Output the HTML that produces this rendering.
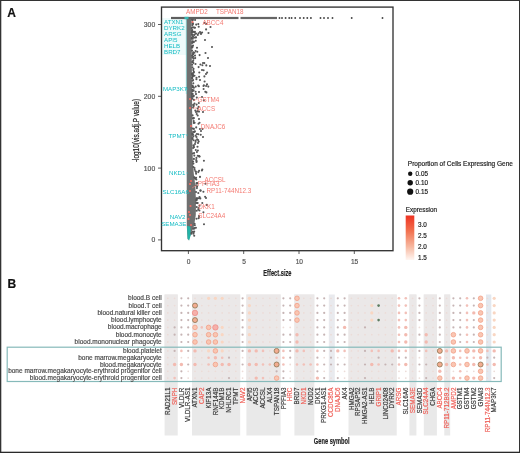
<!DOCTYPE html><html><head><meta charset="utf-8"><style>html,body{margin:0;padding:0;background:#fff;}body{width:520px;height:453px;position:relative;overflow:hidden;}</style></head><body><svg width="520" height="453" viewBox="0 0 520 453" style="position:absolute;left:0;top:0;filter:blur(0.35px);font-family:'Liberation Sans', sans-serif">
<rect x="0" y="0" width="520" height="453" fill="#fff"/>
<text x="7.3" y="17.3" font-size="12" font-weight="bold" fill="#111" stroke="#111" stroke-width="0.18">A</text>
<text x="7.5" y="287.6" font-size="12" font-weight="bold" fill="#111" stroke="#111" stroke-width="0.18">B</text>
<rect x="162" y="18" width="24" height="37" fill="#eefbfb"/>
<polygon points="186.4,18.5 191.6,18.5 191.6,20.5 191.6,22.5 191.6,24.5 191.6,26.5 191.7,28.5 191.7,30.5 191.7,32.5 191.7,34.5 191.7,36.5 191.7,38.5 191.7,40.5 191.7,42.5 191.7,44.5 191.7,46.5 191.7,48.5 191.8,50.5 191.8,52.5 191.8,54.5 191.8,56.5 191.8,58.5 191.8,60.5 191.8,62.5 191.8,64.5 191.8,66.5 191.9,68.5 191.9,70.5 191.9,72.5 191.9,74.5 191.9,76.5 191.9,78.5 191.9,80.5 192.0,82.5 192.0,84.5 192.0,86.5 192.0,88.5 192.0,90.5 192.0,92.5 192.0,94.5 192.0,96.5 192.1,98.5 192.1,100.5 192.1,102.5 192.1,104.5 192.1,106.5 192.1,108.5 192.1,110.5 192.2,112.5 192.2,114.5 192.2,116.5 192.2,118.5 192.2,120.5 192.2,122.5 192.2,124.5 192.2,126.5 192.3,128.5 192.3,130.5 192.3,132.5 192.3,134.5 192.3,136.5 192.3,138.5 192.3,140.5 192.3,142.5 192.4,144.5 192.4,146.5 192.4,148.5 192.4,150.5 192.5,152.5 192.6,154.5 192.7,156.5 192.8,158.5 192.9,160.5 193.0,162.5 193.1,164.5 193.2,166.5 193.3,168.5 193.5,170.5 193.7,172.5 193.9,174.5 194.2,176.5 194.4,178.5 194.7,180.5 194.9,182.5 195.1,184.5 195.3,186.5 195.4,188.5 195.5,190.5 195.6,192.5 195.7,194.5 195.8,196.5 195.9,198.5 196.0,200.5 196.0,202.5 195.9,204.5 195.9,206.5 195.9,208.5 195.9,210.5 195.8,212.5 195.8,214.5 195.6,216.5 195.2,218.5 194.9,220.5 194.6,222.5 194.2,224.5 193.8,226.5 193.1,228.5 192.3,230.5 191.6,232.5 190.8,234.5 189.9,236.5 189.1,238.5 188.2,240.5 188.2,240.5 187.6,238.5 186.8,226.0" fill="#707070"/>
<rect x="185.8" y="18" width="1.2" height="76" fill="#6cc8c8" opacity="0.55"/>
<polygon points="187.0,226 190.4,226.5 190.8,235 189.2,240.5 187.6,238.5" fill="#22b4a8"/>
<circle cx="192.4" cy="89.9" r="1.05" fill="#565656"/>
<circle cx="193.1" cy="161.6" r="1.05" fill="#565656"/>
<circle cx="193.3" cy="136.4" r="1.05" fill="#565656"/>
<circle cx="193.2" cy="31.7" r="1.05" fill="#565656"/>
<circle cx="192.9" cy="27.2" r="1.05" fill="#565656"/>
<circle cx="191.9" cy="34.3" r="1.05" fill="#565656"/>
<circle cx="196.0" cy="112.0" r="1.05" fill="#565656"/>
<circle cx="192.3" cy="46.1" r="1.05" fill="#565656"/>
<circle cx="199.2" cy="156.4" r="1.05" fill="#565656"/>
<circle cx="193.5" cy="145.4" r="1.05" fill="#565656"/>
<circle cx="191.6" cy="232.8" r="1.05" fill="#565656"/>
<circle cx="196.7" cy="207.0" r="1.05" fill="#565656"/>
<circle cx="192.0" cy="50.6" r="1.05" fill="#565656"/>
<circle cx="195.7" cy="86.6" r="1.05" fill="#565656"/>
<circle cx="193.7" cy="58.6" r="1.05" fill="#565656"/>
<circle cx="193.9" cy="158.9" r="1.05" fill="#565656"/>
<circle cx="192.5" cy="139.0" r="1.05" fill="#565656"/>
<circle cx="192.2" cy="32.1" r="1.05" fill="#565656"/>
<circle cx="194.5" cy="168.0" r="1.05" fill="#565656"/>
<circle cx="193.9" cy="87.8" r="1.05" fill="#565656"/>
<circle cx="193.0" cy="118.2" r="1.05" fill="#565656"/>
<circle cx="198.3" cy="193.0" r="1.05" fill="#565656"/>
<circle cx="193.8" cy="72.5" r="1.05" fill="#565656"/>
<circle cx="196.9" cy="134.0" r="1.05" fill="#565656"/>
<circle cx="195.2" cy="178.7" r="1.05" fill="#565656"/>
<circle cx="191.4" cy="233.7" r="1.05" fill="#565656"/>
<circle cx="195.3" cy="110.6" r="1.05" fill="#565656"/>
<circle cx="193.2" cy="52.3" r="1.05" fill="#565656"/>
<circle cx="194.1" cy="27.6" r="1.05" fill="#565656"/>
<circle cx="197.1" cy="186.4" r="1.05" fill="#565656"/>
<circle cx="196.7" cy="210.7" r="1.05" fill="#565656"/>
<circle cx="195.5" cy="171.3" r="1.05" fill="#565656"/>
<circle cx="193.7" cy="146.0" r="1.05" fill="#565656"/>
<circle cx="202.3" cy="203.0" r="1.05" fill="#565656"/>
<circle cx="194.6" cy="122.8" r="1.05" fill="#565656"/>
<circle cx="194.3" cy="32.3" r="1.05" fill="#565656"/>
<circle cx="203.9" cy="160.7" r="1.05" fill="#565656"/>
<circle cx="196.7" cy="199.0" r="1.05" fill="#565656"/>
<circle cx="194.5" cy="103.5" r="1.05" fill="#565656"/>
<circle cx="193.0" cy="23.9" r="1.05" fill="#565656"/>
<circle cx="192.1" cy="55.8" r="1.05" fill="#565656"/>
<circle cx="194.9" cy="31.9" r="1.05" fill="#565656"/>
<circle cx="192.4" cy="47.3" r="1.05" fill="#565656"/>
<circle cx="196.6" cy="104.6" r="1.05" fill="#565656"/>
<circle cx="193.0" cy="36.6" r="1.05" fill="#565656"/>
<circle cx="197.1" cy="139.3" r="1.05" fill="#565656"/>
<circle cx="200.3" cy="198.4" r="1.05" fill="#565656"/>
<circle cx="193.1" cy="80.0" r="1.05" fill="#565656"/>
<circle cx="196.8" cy="97.6" r="1.05" fill="#565656"/>
<circle cx="193.3" cy="228.7" r="1.05" fill="#565656"/>
<circle cx="192.4" cy="57.6" r="1.05" fill="#565656"/>
<circle cx="193.3" cy="70.1" r="1.05" fill="#565656"/>
<circle cx="193.1" cy="148.0" r="1.05" fill="#565656"/>
<circle cx="192.8" cy="19.9" r="1.05" fill="#565656"/>
<circle cx="193.9" cy="99.9" r="1.05" fill="#565656"/>
<circle cx="195.9" cy="227.7" r="1.05" fill="#565656"/>
<circle cx="194.4" cy="131.9" r="1.05" fill="#565656"/>
<circle cx="193.4" cy="167.1" r="1.05" fill="#565656"/>
<circle cx="199.0" cy="216.0" r="1.05" fill="#565656"/>
<circle cx="199.4" cy="210.5" r="1.05" fill="#565656"/>
<circle cx="193.2" cy="104.9" r="1.05" fill="#565656"/>
<circle cx="193.9" cy="41.7" r="1.05" fill="#565656"/>
<circle cx="191.8" cy="32.6" r="1.05" fill="#565656"/>
<circle cx="192.2" cy="64.7" r="1.05" fill="#565656"/>
<circle cx="192.1" cy="93.5" r="1.05" fill="#565656"/>
<circle cx="192.0" cy="19.1" r="1.05" fill="#565656"/>
<circle cx="192.7" cy="41.2" r="1.05" fill="#565656"/>
<circle cx="196.2" cy="24.6" r="1.05" fill="#565656"/>
<circle cx="192.9" cy="153.5" r="1.05" fill="#565656"/>
<circle cx="192.8" cy="74.2" r="1.05" fill="#565656"/>
<circle cx="192.3" cy="98.8" r="1.05" fill="#565656"/>
<circle cx="206.9" cy="204.9" r="1.05" fill="#565656"/>
<circle cx="193.7" cy="121.1" r="1.05" fill="#565656"/>
<circle cx="191.9" cy="37.8" r="1.05" fill="#565656"/>
<circle cx="192.7" cy="94.0" r="1.05" fill="#565656"/>
<circle cx="196.4" cy="200.5" r="1.05" fill="#565656"/>
<circle cx="198.3" cy="24.1" r="1.05" fill="#565656"/>
<circle cx="192.6" cy="134.7" r="1.05" fill="#565656"/>
<circle cx="192.4" cy="138.0" r="1.05" fill="#565656"/>
<circle cx="200.7" cy="134.7" r="1.05" fill="#565656"/>
<circle cx="198.5" cy="208.1" r="1.05" fill="#565656"/>
<circle cx="192.9" cy="76.2" r="1.05" fill="#565656"/>
<circle cx="195.0" cy="55.6" r="1.05" fill="#565656"/>
<circle cx="195.6" cy="135.6" r="1.05" fill="#565656"/>
<circle cx="192.6" cy="91.2" r="1.05" fill="#565656"/>
<circle cx="205.1" cy="196.7" r="1.05" fill="#565656"/>
<circle cx="199.5" cy="205.7" r="1.05" fill="#565656"/>
<circle cx="198.9" cy="198.2" r="1.05" fill="#565656"/>
<circle cx="193.5" cy="68.7" r="1.05" fill="#565656"/>
<circle cx="192.1" cy="96.9" r="1.05" fill="#565656"/>
<circle cx="192.4" cy="25.1" r="1.05" fill="#565656"/>
<circle cx="194.5" cy="75.8" r="1.05" fill="#565656"/>
<circle cx="194.4" cy="228.5" r="1.05" fill="#565656"/>
<circle cx="204.0" cy="224.2" r="1.05" fill="#565656"/>
<circle cx="194.2" cy="228.1" r="1.05" fill="#565656"/>
<circle cx="192.4" cy="67.3" r="1.05" fill="#565656"/>
<circle cx="192.3" cy="62.1" r="1.05" fill="#565656"/>
<circle cx="197.8" cy="155.7" r="1.05" fill="#565656"/>
<circle cx="197.4" cy="203.1" r="1.05" fill="#565656"/>
<circle cx="196.5" cy="162.0" r="1.05" fill="#565656"/>
<circle cx="194.1" cy="37.6" r="1.05" fill="#565656"/>
<circle cx="198.6" cy="218.2" r="1.05" fill="#565656"/>
<circle cx="196.4" cy="183.3" r="1.05" fill="#565656"/>
<circle cx="195.2" cy="58.1" r="1.05" fill="#565656"/>
<circle cx="195.6" cy="91.8" r="1.05" fill="#565656"/>
<circle cx="192.9" cy="231.8" r="1.05" fill="#565656"/>
<circle cx="198.6" cy="106.9" r="1.05" fill="#565656"/>
<circle cx="194.7" cy="177.7" r="1.05" fill="#565656"/>
<circle cx="192.1" cy="46.8" r="1.05" fill="#565656"/>
<circle cx="199.1" cy="217.2" r="1.05" fill="#565656"/>
<circle cx="195.6" cy="51.0" r="1.05" fill="#565656"/>
<circle cx="193.5" cy="233.7" r="1.05" fill="#565656"/>
<circle cx="193.8" cy="95.7" r="1.05" fill="#565656"/>
<circle cx="191.8" cy="47.7" r="1.05" fill="#565656"/>
<circle cx="194.2" cy="231.6" r="1.05" fill="#565656"/>
<circle cx="198.3" cy="134.3" r="1.05" fill="#565656"/>
<circle cx="196.7" cy="114.0" r="1.05" fill="#565656"/>
<circle cx="196.5" cy="199.9" r="1.05" fill="#565656"/>
<circle cx="192.7" cy="74.2" r="1.05" fill="#565656"/>
<circle cx="193.8" cy="71.7" r="1.05" fill="#565656"/>
<circle cx="193.1" cy="75.8" r="1.05" fill="#565656"/>
<circle cx="197.0" cy="47.7" r="1.05" fill="#565656"/>
<circle cx="193.4" cy="96.5" r="1.05" fill="#565656"/>
<circle cx="197.5" cy="146.8" r="1.05" fill="#565656"/>
<circle cx="197.6" cy="111.1" r="1.05" fill="#565656"/>
<circle cx="193.9" cy="128.9" r="1.05" fill="#565656"/>
<circle cx="192.3" cy="133.6" r="1.05" fill="#565656"/>
<circle cx="192.6" cy="115.4" r="1.05" fill="#565656"/>
<circle cx="195.1" cy="19.9" r="1.05" fill="#565656"/>
<circle cx="193.2" cy="56.7" r="1.05" fill="#565656"/>
<circle cx="196.1" cy="177.8" r="1.05" fill="#565656"/>
<circle cx="193.6" cy="90.4" r="1.05" fill="#565656"/>
<circle cx="195.7" cy="140.6" r="1.05" fill="#565656"/>
<circle cx="193.5" cy="42.2" r="1.05" fill="#565656"/>
<circle cx="192.6" cy="73.4" r="1.05" fill="#565656"/>
<circle cx="196.9" cy="188.1" r="1.05" fill="#565656"/>
<circle cx="195.5" cy="142.0" r="1.05" fill="#565656"/>
<circle cx="196.5" cy="218.8" r="1.05" fill="#565656"/>
<circle cx="194.1" cy="153.1" r="1.05" fill="#565656"/>
<circle cx="194.9" cy="131.2" r="1.05" fill="#565656"/>
<circle cx="193.9" cy="118.1" r="1.05" fill="#565656"/>
<circle cx="198.5" cy="123.7" r="1.05" fill="#565656"/>
<circle cx="198.3" cy="172.1" r="1.05" fill="#565656"/>
<circle cx="194.8" cy="225.3" r="1.05" fill="#565656"/>
<circle cx="198.7" cy="141.5" r="1.05" fill="#565656"/>
<circle cx="196.3" cy="203.0" r="1.05" fill="#565656"/>
<circle cx="193.0" cy="45.6" r="1.05" fill="#565656"/>
<circle cx="192.3" cy="34.9" r="1.05" fill="#565656"/>
<circle cx="194.1" cy="35.0" r="1.05" fill="#565656"/>
<circle cx="200.5" cy="190.7" r="1.05" fill="#565656"/>
<circle cx="194.5" cy="52.8" r="1.05" fill="#565656"/>
<circle cx="193.4" cy="163.6" r="1.05" fill="#565656"/>
<circle cx="203.4" cy="212.3" r="1.05" fill="#565656"/>
<circle cx="198.6" cy="67.1" r="1.05" fill="#565656"/>
<circle cx="193.6" cy="106.2" r="1.05" fill="#565656"/>
<circle cx="194.2" cy="235.8" r="1.05" fill="#565656"/>
<circle cx="193.0" cy="54.4" r="1.05" fill="#565656"/>
<circle cx="193.2" cy="131.9" r="1.05" fill="#565656"/>
<circle cx="192.7" cy="61.9" r="1.05" fill="#565656"/>
<circle cx="194.3" cy="177.2" r="1.05" fill="#565656"/>
<circle cx="193.6" cy="140.3" r="1.05" fill="#565656"/>
<circle cx="192.5" cy="23.0" r="1.05" fill="#565656"/>
<circle cx="194.3" cy="155.6" r="1.05" fill="#565656"/>
<circle cx="200.9" cy="33.1" r="1.05" fill="#565656"/>
<circle cx="203.4" cy="191.7" r="1.05" fill="#565656"/>
<circle cx="192.4" cy="41.9" r="1.05" fill="#565656"/>
<circle cx="195.0" cy="27.7" r="1.05" fill="#565656"/>
<circle cx="192.2" cy="78.2" r="1.05" fill="#565656"/>
<circle cx="197.5" cy="111.5" r="1.05" fill="#565656"/>
<circle cx="196.6" cy="198.4" r="1.05" fill="#565656"/>
<circle cx="197.3" cy="51.7" r="1.05" fill="#565656"/>
<circle cx="195.0" cy="144.0" r="1.05" fill="#565656"/>
<circle cx="191.8" cy="38.6" r="1.05" fill="#565656"/>
<circle cx="194.6" cy="169.7" r="1.05" fill="#565656"/>
<circle cx="197.8" cy="34.9" r="1.05" fill="#565656"/>
<circle cx="196.4" cy="157.9" r="1.05" fill="#565656"/>
<circle cx="196.0" cy="37.3" r="1.05" fill="#565656"/>
<circle cx="196.0" cy="33.6" r="1.05" fill="#565656"/>
<circle cx="193.1" cy="118.4" r="1.05" fill="#565656"/>
<circle cx="198.1" cy="140.1" r="1.05" fill="#565656"/>
<circle cx="192.2" cy="77.7" r="1.05" fill="#565656"/>
<circle cx="192.9" cy="134.4" r="1.05" fill="#565656"/>
<circle cx="192.1" cy="43.0" r="1.05" fill="#565656"/>
<circle cx="192.2" cy="30.0" r="1.05" fill="#565656"/>
<circle cx="192.8" cy="87.3" r="1.05" fill="#565656"/>
<circle cx="196.0" cy="185.3" r="1.05" fill="#565656"/>
<circle cx="192.7" cy="128.5" r="1.05" fill="#565656"/>
<circle cx="192.1" cy="95.0" r="1.05" fill="#565656"/>
<circle cx="191.9" cy="73.8" r="1.05" fill="#565656"/>
<circle cx="196.3" cy="179.5" r="1.05" fill="#565656"/>
<circle cx="193.2" cy="60.5" r="1.05" fill="#565656"/>
<circle cx="194.6" cy="223.7" r="1.05" fill="#565656"/>
<circle cx="197.2" cy="198.3" r="1.05" fill="#565656"/>
<circle cx="196.2" cy="127.4" r="1.05" fill="#565656"/>
<circle cx="193.7" cy="105.1" r="1.05" fill="#565656"/>
<circle cx="202.3" cy="169.6" r="1.05" fill="#565656"/>
<circle cx="196.0" cy="94.1" r="1.05" fill="#565656"/>
<circle cx="196.1" cy="173.8" r="1.05" fill="#565656"/>
<circle cx="193.1" cy="107.6" r="1.05" fill="#565656"/>
<circle cx="192.0" cy="30.9" r="1.05" fill="#565656"/>
<circle cx="194.6" cy="34.5" r="1.05" fill="#565656"/>
<circle cx="192.3" cy="75.0" r="1.05" fill="#565656"/>
<circle cx="195.7" cy="37.5" r="1.05" fill="#565656"/>
<circle cx="198.3" cy="209.6" r="1.05" fill="#565656"/>
<circle cx="192.5" cy="80.7" r="1.05" fill="#565656"/>
<circle cx="193.3" cy="83.2" r="1.05" fill="#565656"/>
<circle cx="193.1" cy="53.5" r="1.05" fill="#565656"/>
<circle cx="199.1" cy="76.7" r="1.05" fill="#565656"/>
<circle cx="193.5" cy="232.0" r="1.05" fill="#565656"/>
<circle cx="199.3" cy="72.5" r="1.05" fill="#565656"/>
<circle cx="192.9" cy="86.8" r="1.05" fill="#565656"/>
<circle cx="192.7" cy="19.2" r="1.05" fill="#565656"/>
<circle cx="193.8" cy="122.9" r="1.05" fill="#565656"/>
<circle cx="193.4" cy="63.0" r="1.05" fill="#565656"/>
<circle cx="192.3" cy="20.1" r="1.05" fill="#565656"/>
<circle cx="192.8" cy="38.7" r="1.05" fill="#565656"/>
<circle cx="191.7" cy="28.1" r="1.05" fill="#565656"/>
<circle cx="192.6" cy="85.6" r="1.05" fill="#565656"/>
<circle cx="194.0" cy="147.2" r="1.05" fill="#565656"/>
<circle cx="197.4" cy="183.4" r="1.05" fill="#565656"/>
<circle cx="204.5" cy="23.0" r="1.05" fill="#565656"/>
<circle cx="210.5" cy="27.0" r="1.05" fill="#565656"/>
<circle cx="208.5" cy="33.0" r="1.05" fill="#565656"/>
<circle cx="201.0" cy="34.0" r="1.05" fill="#565656"/>
<circle cx="205.0" cy="40.0" r="1.05" fill="#565656"/>
<circle cx="212.0" cy="47.0" r="1.05" fill="#565656"/>
<circle cx="205.5" cy="53.0" r="1.05" fill="#565656"/>
<circle cx="208.0" cy="58.0" r="1.05" fill="#565656"/>
<circle cx="203.0" cy="63.0" r="1.05" fill="#565656"/>
<circle cx="210.0" cy="66.0" r="1.05" fill="#565656"/>
<circle cx="202.0" cy="70.0" r="1.05" fill="#565656"/>
<circle cx="206.0" cy="74.0" r="1.05" fill="#565656"/>
<circle cx="200.0" cy="80.0" r="1.05" fill="#565656"/>
<circle cx="203.5" cy="86.0" r="1.05" fill="#565656"/>
<circle cx="199.0" cy="92.0" r="1.05" fill="#565656"/>
<circle cx="202.0" cy="97.0" r="1.05" fill="#565656"/>
<circle cx="198.8" cy="103.0" r="1.05" fill="#565656"/>
<circle cx="203.0" cy="112.0" r="1.05" fill="#565656"/>
<circle cx="199.0" cy="119.0" r="1.05" fill="#565656"/>
<circle cx="201.0" cy="131.0" r="1.05" fill="#565656"/>
<circle cx="196.5" cy="137.0" r="1.05" fill="#565656"/>
<circle cx="203.0" cy="137.0" r="1.05" fill="#565656"/>
<circle cx="198.0" cy="143.0" r="1.05" fill="#565656"/>
<circle cx="195.8" cy="150.0" r="1.05" fill="#565656"/>
<circle cx="196.2" cy="160.0" r="1.05" fill="#565656"/>
<circle cx="199.0" cy="156.0" r="1.05" fill="#565656"/>
<circle cx="196.0" cy="172.0" r="1.05" fill="#565656"/>
<circle cx="197.0" cy="183.0" r="1.05" fill="#565656"/>
<circle cx="196.0" cy="192.0" r="1.05" fill="#565656"/>
<circle cx="199.5" cy="197.0" r="1.05" fill="#565656"/>
<circle cx="197.5" cy="203.0" r="1.05" fill="#565656"/>
<circle cx="207.0" cy="84.4" r="1.05" fill="#565656"/>
<circle cx="199.6" cy="55.1" r="1.05" fill="#565656"/>
<circle cx="197.7" cy="108.6" r="1.05" fill="#565656"/>
<circle cx="203.9" cy="85.2" r="1.05" fill="#565656"/>
<circle cx="206.1" cy="23.9" r="1.05" fill="#565656"/>
<circle cx="203.8" cy="100.3" r="1.05" fill="#565656"/>
<circle cx="206.1" cy="86.0" r="1.05" fill="#565656"/>
<circle cx="202.1" cy="32.5" r="1.05" fill="#565656"/>
<circle cx="206.3" cy="65.4" r="1.05" fill="#565656"/>
<circle cx="206.4" cy="92.4" r="1.05" fill="#565656"/>
<circle cx="207.1" cy="72.6" r="1.05" fill="#565656"/>
<circle cx="204.6" cy="81.5" r="1.05" fill="#565656"/>
<circle cx="195.7" cy="40.7" r="1.05" fill="#565656"/>
<circle cx="200.0" cy="32.0" r="1.05" fill="#565656"/>
<circle cx="206.1" cy="29.4" r="1.05" fill="#565656"/>
<circle cx="203.6" cy="70.3" r="1.05" fill="#565656"/>
<circle cx="204.4" cy="76.4" r="1.05" fill="#565656"/>
<circle cx="195.5" cy="64.0" r="1.05" fill="#565656"/>
<circle cx="205.3" cy="91.8" r="1.05" fill="#565656"/>
<circle cx="202.4" cy="65.3" r="1.05" fill="#565656"/>
<circle cx="196.4" cy="79.3" r="1.05" fill="#565656"/>
<circle cx="198.9" cy="86.3" r="1.05" fill="#565656"/>
<circle cx="198.7" cy="26.7" r="1.05" fill="#565656"/>
<circle cx="198.2" cy="85.6" r="1.05" fill="#565656"/>
<circle cx="208.3" cy="86.6" r="1.05" fill="#565656"/>
<circle cx="200.4" cy="64.5" r="1.05" fill="#565656"/>
<circle cx="204.3" cy="63.1" r="1.05" fill="#565656"/>
<circle cx="203.6" cy="89.0" r="1.05" fill="#565656"/>
<circle cx="196.5" cy="77.8" r="1.05" fill="#565656"/>
<circle cx="198.6" cy="33.3" r="1.05" fill="#565656"/>
<circle cx="200.0" cy="176.9" r="1.05" fill="#565656"/>
<circle cx="196.6" cy="161.1" r="1.05" fill="#565656"/>
<circle cx="197.7" cy="115.5" r="1.05" fill="#565656"/>
<circle cx="201.9" cy="170.5" r="1.05" fill="#565656"/>
<circle cx="199.1" cy="170.8" r="1.05" fill="#565656"/>
<circle cx="199.6" cy="156.5" r="1.05" fill="#565656"/>
<circle cx="196.9" cy="152.0" r="1.05" fill="#565656"/>
<circle cx="200.5" cy="190.4" r="1.05" fill="#565656"/>
<circle cx="206.0" cy="198.0" r="1.05" fill="#565656"/>
<circle cx="199.0" cy="111.6" r="1.05" fill="#565656"/>
<circle cx="205.4" cy="183.8" r="1.05" fill="#565656"/>
<circle cx="197.9" cy="150.5" r="1.05" fill="#565656"/>
<circle cx="202.5" cy="128.9" r="1.05" fill="#565656"/>
<circle cx="199.9" cy="129.0" r="1.05" fill="#565656"/>
<circle cx="199.5" cy="122.8" r="1.05" fill="#565656"/>
<rect x="171" y="16.9" width="67.5" height="2.2" fill="#5e5e5e"/><rect x="240.5" y="16.9" width="36.5" height="2.2" fill="#666"/>
<rect x="184.5" y="16.8" width="4" height="2.4" fill="#3ab8b4"/>
<circle cx="279.5" cy="18" r="0.95" fill="#444"/>
<circle cx="282" cy="18" r="0.95" fill="#444"/>
<circle cx="285.6" cy="18" r="0.95" fill="#444"/>
<circle cx="289.2" cy="18" r="0.95" fill="#444"/>
<circle cx="291.6" cy="18" r="0.95" fill="#444"/>
<circle cx="295.2" cy="18" r="0.95" fill="#444"/>
<circle cx="300" cy="18" r="0.95" fill="#444"/>
<circle cx="303.7" cy="18" r="0.95" fill="#444"/>
<circle cx="307.3" cy="18" r="0.95" fill="#444"/>
<circle cx="310.9" cy="18" r="0.95" fill="#444"/>
<circle cx="320.5" cy="18" r="0.95" fill="#444"/>
<circle cx="324" cy="18" r="0.95" fill="#444"/>
<circle cx="328" cy="18" r="0.95" fill="#444"/>
<circle cx="332.5" cy="18" r="0.95" fill="#444"/>
<circle cx="351.7" cy="18" r="0.95" fill="#444"/>
<circle cx="382.5" cy="18" r="0.95" fill="#444"/>
<circle cx="192.5" cy="22" r="1.1" fill="#f06b62"/>
<circle cx="190" cy="99" r="1.1" fill="#f06b62"/>
<circle cx="190" cy="108" r="1.1" fill="#f06b62"/>
<circle cx="191" cy="126" r="1.1" fill="#f06b62"/>
<circle cx="191" cy="181" r="1.1" fill="#f06b62"/>
<circle cx="190" cy="184" r="1.1" fill="#f06b62"/>
<circle cx="190" cy="191" r="1.1" fill="#f06b62"/>
<circle cx="190.5" cy="206" r="1.1" fill="#f06b62"/>
<circle cx="190" cy="215" r="1.1" fill="#f06b62"/>
<circle cx="191" cy="225" r="1.1" fill="#f06b62"/>
<circle cx="189" cy="212" r="1.1" fill="#f06b62"/>
<circle cx="188.5" cy="219" r="1.1" fill="#f06b62"/>
<rect x="161.5" y="7.1" width="231.5" height="243.6" fill="none" stroke="#333" stroke-width="1.35"/>
<line x1="158" x2="161.5" y1="239.9" y2="239.9" stroke="#333" stroke-width="0.8"/>
<text x="155.2" y="242.3" font-size="6.8" fill="#555" stroke="#555" stroke-width="0.18" text-anchor="end">0</text>
<line x1="158" x2="161.5" y1="168.1" y2="168.1" stroke="#333" stroke-width="0.8"/>
<text x="155.2" y="170.6" font-size="6.8" fill="#555" stroke="#555" stroke-width="0.18" text-anchor="end">100</text>
<line x1="158" x2="161.5" y1="96.3" y2="96.3" stroke="#333" stroke-width="0.8"/>
<text x="155.2" y="98.8" font-size="6.8" fill="#555" stroke="#555" stroke-width="0.18" text-anchor="end">200</text>
<line x1="158" x2="161.5" y1="24.5" y2="24.5" stroke="#333" stroke-width="0.8"/>
<text x="155.2" y="27.0" font-size="6.8" fill="#555" stroke="#555" stroke-width="0.18" text-anchor="end">300</text>
<line x1="188.4" x2="188.4" y1="251" y2="254" stroke="#333" stroke-width="0.8"/>
<text x="188.7" y="263.5" font-size="6.6" fill="#555" stroke="#555" stroke-width="0.18" text-anchor="middle">0</text>
<line x1="243.7" x2="243.7" y1="251" y2="254" stroke="#333" stroke-width="0.8"/>
<text x="244.0" y="263.5" font-size="6.6" fill="#555" stroke="#555" stroke-width="0.18" text-anchor="middle">5</text>
<line x1="299.0" x2="299.0" y1="251" y2="254" stroke="#333" stroke-width="0.8"/>
<text x="299.3" y="263.5" font-size="6.6" fill="#555" stroke="#555" stroke-width="0.18" text-anchor="middle">10</text>
<line x1="354.3" x2="354.3" y1="251" y2="254" stroke="#333" stroke-width="0.8"/>
<text x="354.6" y="263.5" font-size="6.6" fill="#555" stroke="#555" stroke-width="0.18" text-anchor="middle">15</text>
<text transform="translate(277.4,275.7) scale(0.64,1)" font-size="8.9" fill="#222" stroke="#222" stroke-width="0.18" text-anchor="middle" font-weight="bold">Effect.size</text>
<text transform="translate(138.9,130.5) rotate(-90) scale(0.78,1)" font-size="8.2" fill="#222" stroke="#222" stroke-width="0.18" text-anchor="middle">-log10(vis.adj.P value)</text>
<text x="164" y="24.4" font-size="6.2" style="fill:#14bcc4">ATXN1</text>
<text x="164" y="30.4" font-size="6.2" style="fill:#14bcc4">DYRK2</text>
<text x="164" y="36.4" font-size="6.2" style="fill:#14bcc4">ARSG</text>
<text x="164" y="42" font-size="6.2" style="fill:#14bcc4">API5</text>
<text x="164" y="48" font-size="6.2" style="fill:#14bcc4">HELB</text>
<text x="164" y="54" font-size="6.2" style="fill:#14bcc4">BRD7</text>
<text x="162.9" y="91.3" font-size="6.2" style="fill:#14bcc4">MAP3K7</text>
<text x="168.6" y="137.6" font-size="6.2" style="fill:#14bcc4">TPMT</text>
<text x="169" y="174.8" font-size="6.2" style="fill:#14bcc4">NKD1</text>
<text x="162.4" y="194.2" font-size="6.2" style="fill:#14bcc4">SLC16A6</text>
<text x="169.8" y="219.4" font-size="6.2" style="fill:#14bcc4">NAV2</text>
<text x="161.2" y="225.6" font-size="6.2" style="fill:#14bcc4">SEMA3E</text>
<text x="186" y="14" font-size="6.3" style="fill:#f47a72">AMPD2</text>
<text x="216" y="14" font-size="6.3" style="fill:#f47a72">TSPAN18</text>
<text x="202.4" y="25.4" font-size="6.3" style="fill:#f47a72">ABCC4</text>
<text x="197.6" y="102.2" font-size="6.3" style="fill:#f47a72">GSTM4</text>
<text x="197.6" y="111" font-size="6.3" style="fill:#f47a72">ACCS</text>
<text x="200.8" y="128.5" font-size="6.3" style="fill:#f47a72">DNAJC6</text>
<text x="204.5" y="182.4" font-size="6.3" style="fill:#f47a72">ACCSL</text>
<text x="197.8" y="186.4" font-size="6.3" style="fill:#f47a72">PPFIA3</text>
<text x="206.5" y="192.8" font-size="6.3" style="fill:#f47a72">RP11-744N12.3</text>
<text x="198.2" y="208.9" font-size="6.3" style="fill:#f47a72">DKK1</text>
<text x="198.2" y="218.1" font-size="6.3" style="fill:#f47a72">SLC24A4</text>
<line x1="185" y1="89" x2="188" y2="89" stroke="#14bcc4" stroke-width="0.6"/>
<line x1="186" y1="135" x2="188" y2="135" stroke="#14bcc4" stroke-width="0.6"/>
<line x1="186.5" y1="173" x2="188" y2="173" stroke="#14bcc4" stroke-width="0.6"/>
<line x1="192" y1="188" x2="197" y2="185" stroke="#f47a72" stroke-width="0.6"/>
<line x1="193" y1="101" x2="197" y2="99" stroke="#f47a72" stroke-width="0.6"/>
<line x1="193" y1="108" x2="197" y2="108" stroke="#f47a72" stroke-width="0.6"/>
<text x="407.8" y="166" font-size="6.5" fill="#222" stroke="#222" stroke-width="0.18">Proportion of Cells Expressing Gene</text>
<circle cx="410.2" cy="173.7" r="2.2" fill="#111"/>
<text x="415.6" y="176.1" font-size="6.35" fill="#222" stroke="#222" stroke-width="0.18">0.05</text>
<circle cx="410.2" cy="182.7" r="2.7" fill="#111"/>
<text x="415.6" y="185.1" font-size="6.35" fill="#222" stroke="#222" stroke-width="0.18">0.10</text>
<circle cx="410.2" cy="191.7" r="3.1" fill="#111"/>
<text x="415.6" y="194.1" font-size="6.35" fill="#222" stroke="#222" stroke-width="0.18">0.15</text>
<text x="405.8" y="211.6" font-size="6.3" fill="#222" stroke="#222" stroke-width="0.18">Expression</text>
<defs><linearGradient id="eg" x1="0" y1="0" x2="0" y2="1"><stop offset="0" stop-color="#ee3322"/><stop offset="0.35" stop-color="#f2714f"/><stop offset="0.7" stop-color="#f7b8a0"/><stop offset="1" stop-color="#fff6f2"/></linearGradient></defs>
<rect x="405.7" y="215.5" width="8.6" height="44.5" fill="url(#eg)"/>
<text x="418" y="226.70000000000002" font-size="6.35" fill="#222" stroke="#222" stroke-width="0.18">3.0</text>
<text x="418" y="237.9" font-size="6.35" fill="#222" stroke="#222" stroke-width="0.18">2.5</text>
<text x="418" y="248.9" font-size="6.35" fill="#222" stroke="#222" stroke-width="0.18">2.0</text>
<text x="418" y="259.90000000000003" font-size="6.35" fill="#222" stroke="#222" stroke-width="0.18">1.5</text>
<rect x="164.6" y="294.5" width="13.1" height="141" fill="#e9e9e9"/>
<rect x="164.6" y="294.5" width="13.1" height="87" fill="#ebe8e8"/>
<rect x="192.0" y="294.5" width="48.2" height="141" fill="#e9e9e9"/>
<rect x="192.0" y="294.5" width="48.2" height="87" fill="#ebe8e8"/>
<rect x="246.4" y="294.5" width="34.2" height="141" fill="#e9e9e9"/>
<rect x="246.4" y="294.5" width="34.2" height="87" fill="#ebe8e8"/>
<rect x="294.4" y="294.5" width="19.9" height="141" fill="#e9e9e9"/>
<rect x="294.4" y="294.5" width="19.9" height="87" fill="#ebe8e8"/>
<rect x="348.5" y="294.5" width="48.2" height="141" fill="#e9e9e9"/>
<rect x="348.5" y="294.5" width="48.2" height="87" fill="#ebe8e8"/>
<rect x="409.4" y="294.5" width="7.0" height="141" fill="#e9e9e9"/>
<rect x="409.4" y="294.5" width="7.0" height="87" fill="#ebe8e8"/>
<rect x="423.8" y="294.5" width="13.1" height="141" fill="#e9e9e9"/>
<rect x="423.8" y="294.5" width="13.1" height="87" fill="#ebe8e8"/>
<rect x="444.3" y="294.5" width="5.9" height="141" fill="#e9e9e9"/>
<rect x="444.3" y="294.5" width="5.9" height="87" fill="#ebe8e8"/>
<rect x="328.8" y="294.5" width="6" height="87" fill="#e9eaee"/>
<rect x="486.0" y="294.5" width="5.3" height="87" fill="#e2e8ef"/>
<defs><filter id="bl" x="-0.2" y="-0.2" width="1.4" height="1.4"><feGaussianBlur stdDeviation="0.35"/></filter></defs><g filter="url(#bl)">
<circle cx="167.8" cy="298.3" r="0.9" fill="#ecdcd8"/>
<circle cx="167.8" cy="305.6" r="0.9" fill="#ecdcd8"/>
<circle cx="167.8" cy="312.9" r="0.9" fill="#ecdcd8"/>
<circle cx="167.8" cy="320.1" r="0.9" fill="#ecdcd8"/>
<circle cx="167.8" cy="327.4" r="0.9" fill="#ecdcd8"/>
<circle cx="167.8" cy="334.7" r="0.9" fill="#ecdcd8"/>
<circle cx="167.8" cy="342.0" r="0.9" fill="#ecdcd8"/>
<circle cx="167.8" cy="350.9" r="0.9" fill="#ecdcd8"/>
<circle cx="167.8" cy="357.7" r="0.9" fill="#ecdcd8"/>
<circle cx="167.8" cy="364.5" r="0.9" fill="#ecdcd8"/>
<circle cx="167.8" cy="371.3" r="0.9" fill="#ecdcd8"/>
<circle cx="167.8" cy="378.1" r="0.9" fill="#ecdcd8"/>
<circle cx="174.6" cy="298.3" r="0.9" fill="#ecdcd8"/>
<circle cx="174.6" cy="305.6" r="0.9" fill="#ecdcd8"/>
<circle cx="174.6" cy="312.9" r="0.9" fill="#ecdcd8"/>
<circle cx="174.6" cy="320.1" r="0.9" fill="#ecdcd8"/>
<circle cx="174.6" cy="327.4" r="1.1" fill="#c6b4b4"/>
<circle cx="174.6" cy="334.7" r="1.1" fill="#c6b4b4"/>
<circle cx="174.6" cy="342.0" r="0.9" fill="#ecdcd8"/>
<circle cx="174.6" cy="350.9" r="1.1" fill="#c6b4b4"/>
<circle cx="174.6" cy="357.7" r="0.9" fill="#ecdcd8"/>
<circle cx="174.6" cy="364.5" r="1.7" fill="#f3bab0"/>
<circle cx="174.6" cy="371.3" r="0.9" fill="#ecdcd8"/>
<circle cx="174.6" cy="378.1" r="1.3" fill="#f2c0b8"/>
<circle cx="181.4" cy="298.3" r="1.1" fill="#c6b4b4"/>
<circle cx="181.4" cy="305.6" r="1.1" fill="#c6b4b4"/>
<circle cx="181.4" cy="312.9" r="1.1" fill="#c6b4b4"/>
<circle cx="181.4" cy="320.1" r="1.1" fill="#c6b4b4"/>
<circle cx="181.4" cy="327.4" r="1.1" fill="#c6b4b4"/>
<circle cx="181.4" cy="334.7" r="1.1" fill="#c6b4b4"/>
<circle cx="181.4" cy="342.0" r="1.1" fill="#c6b4b4"/>
<circle cx="181.4" cy="350.9" r="1.3" fill="#f2c0b8"/>
<circle cx="181.4" cy="357.7" r="0.9" fill="#ecdcd8"/>
<circle cx="181.4" cy="364.5" r="1.7" fill="#f3bab0"/>
<circle cx="181.4" cy="371.3" r="1.1" fill="#c6b4b4"/>
<circle cx="181.4" cy="378.1" r="1.1" fill="#c6b4b4"/>
<circle cx="188.2" cy="298.3" r="1.1" fill="#c6b4b4"/>
<circle cx="188.2" cy="305.6" r="1.1" fill="#c6b4b4"/>
<circle cx="188.2" cy="312.9" r="1.1" fill="#c6b4b4"/>
<circle cx="188.2" cy="320.1" r="1.1" fill="#c6b4b4"/>
<circle cx="188.2" cy="327.4" r="1.1" fill="#c6b4b4"/>
<circle cx="188.2" cy="334.7" r="1.1" fill="#c6b4b4"/>
<circle cx="188.2" cy="342.0" r="1.1" fill="#c6b4b4"/>
<circle cx="188.2" cy="350.9" r="1.1" fill="#c6b4b4"/>
<circle cx="188.2" cy="357.7" r="0.9" fill="#ecdcd8"/>
<circle cx="188.2" cy="364.5" r="1.1" fill="#c6b4b4"/>
<circle cx="188.2" cy="371.3" r="0.9" fill="#ecdcd8"/>
<circle cx="188.2" cy="378.1" r="0.9" fill="#ecdcd8"/>
<circle cx="195.0" cy="298.3" r="0.9" fill="#ecdcd8"/>
<circle cx="195.0" cy="305.6" r="2.5" fill="#f3ac90" stroke="#8c7652" stroke-width="0.8"/>
<circle cx="195.0" cy="312.9" r="2.7" fill="#f6b0aa" stroke="#ee8e88" stroke-width="0.8"/>
<circle cx="195.0" cy="320.1" r="2.5" fill="#f3ac90" stroke="#8c7652" stroke-width="0.8"/>
<circle cx="195.0" cy="327.4" r="2.3" fill="#f9c6b2" stroke="#f2a088" stroke-width="0.8"/>
<circle cx="195.0" cy="334.7" r="2.3" fill="#f9c6b2" stroke="#f2a088" stroke-width="0.8"/>
<circle cx="195.0" cy="342.0" r="2.3" fill="#f9c6b2" stroke="#f2a088" stroke-width="0.8"/>
<circle cx="195.0" cy="350.9" r="1.7" fill="#f3bab0"/>
<circle cx="195.0" cy="357.7" r="0.9" fill="#ecdcd8"/>
<circle cx="195.0" cy="364.5" r="1.7" fill="#f3bab0"/>
<circle cx="195.0" cy="371.3" r="0.9" fill="#ecdcd8"/>
<circle cx="195.0" cy="378.1" r="0.9" fill="#ecdcd8"/>
<circle cx="201.8" cy="298.3" r="0.9" fill="#ecdcd8"/>
<circle cx="201.8" cy="305.6" r="0.9" fill="#ecdcd8"/>
<circle cx="201.8" cy="312.9" r="0.9" fill="#ecdcd8"/>
<circle cx="201.8" cy="320.1" r="0.9" fill="#ecdcd8"/>
<circle cx="201.8" cy="327.4" r="1.3" fill="#f2c0b8"/>
<circle cx="201.8" cy="334.7" r="0.9" fill="#ecdcd8"/>
<circle cx="201.8" cy="342.0" r="0.9" fill="#ecdcd8"/>
<circle cx="201.8" cy="350.9" r="0.9" fill="#ecdcd8"/>
<circle cx="201.8" cy="357.7" r="0.9" fill="#ecdcd8"/>
<circle cx="201.8" cy="364.5" r="0.9" fill="#ecdcd8"/>
<circle cx="201.8" cy="371.3" r="0.9" fill="#ecdcd8"/>
<circle cx="201.8" cy="378.1" r="0.9" fill="#ecdcd8"/>
<circle cx="208.6" cy="298.3" r="1.6" fill="#f9d6c2"/>
<circle cx="208.6" cy="305.6" r="0.9" fill="#ecdcd8"/>
<circle cx="208.6" cy="312.9" r="0.9" fill="#ecdcd8"/>
<circle cx="208.6" cy="320.1" r="0.9" fill="#ecdcd8"/>
<circle cx="208.6" cy="327.4" r="2.3" fill="#f9c6b2" stroke="#f2a088" stroke-width="0.8"/>
<circle cx="208.6" cy="334.7" r="2.3" fill="#f9c6b2" stroke="#f2a088" stroke-width="0.8"/>
<circle cx="208.6" cy="342.0" r="2.3" fill="#f9c6b2" stroke="#f2a088" stroke-width="0.8"/>
<circle cx="208.6" cy="350.9" r="1.6" fill="#f9d6c2"/>
<circle cx="208.6" cy="357.7" r="1.3" fill="#f2c0b8"/>
<circle cx="208.6" cy="364.5" r="1.3" fill="#f2c0b8"/>
<circle cx="208.6" cy="371.3" r="0.9" fill="#ecdcd8"/>
<circle cx="208.6" cy="378.1" r="0.9" fill="#ecdcd8"/>
<circle cx="215.4" cy="298.3" r="1.6" fill="#f9d6c2"/>
<circle cx="215.4" cy="305.6" r="0.9" fill="#ecdcd8"/>
<circle cx="215.4" cy="312.9" r="0.9" fill="#ecdcd8"/>
<circle cx="215.4" cy="320.1" r="0.9" fill="#ecdcd8"/>
<circle cx="215.4" cy="327.4" r="2.7" fill="#f6b0aa" stroke="#ee8e88" stroke-width="0.8"/>
<circle cx="215.4" cy="334.7" r="2.3" fill="#f9c6b2" stroke="#f2a088" stroke-width="0.8"/>
<circle cx="215.4" cy="342.0" r="2.3" fill="#f9c6b2" stroke="#f2a088" stroke-width="0.8"/>
<circle cx="215.4" cy="350.9" r="2.3" fill="#f9c6b2" stroke="#f2a088" stroke-width="0.8"/>
<circle cx="215.4" cy="357.7" r="1.7" fill="#f3bab0"/>
<circle cx="215.4" cy="364.5" r="2.3" fill="#f9c6b2" stroke="#f2a088" stroke-width="0.8"/>
<circle cx="215.4" cy="371.3" r="0.9" fill="#ecdcd8"/>
<circle cx="215.4" cy="378.1" r="0.9" fill="#ecdcd8"/>
<circle cx="222.2" cy="298.3" r="1.6" fill="#f9d6c2"/>
<circle cx="222.2" cy="305.6" r="0.9" fill="#ecdcd8"/>
<circle cx="222.2" cy="312.9" r="0.9" fill="#ecdcd8"/>
<circle cx="222.2" cy="320.1" r="0.9" fill="#ecdcd8"/>
<circle cx="222.2" cy="327.4" r="1.6" fill="#f9d6c2"/>
<circle cx="222.2" cy="334.7" r="1.6" fill="#f9d6c2"/>
<circle cx="222.2" cy="342.0" r="1.6" fill="#f9d6c2"/>
<circle cx="222.2" cy="350.9" r="1.6" fill="#f9d6c2"/>
<circle cx="222.2" cy="357.7" r="1.3" fill="#f2c0b8"/>
<circle cx="222.2" cy="364.5" r="1.7" fill="#f3bab0"/>
<circle cx="222.2" cy="371.3" r="0.9" fill="#ecdcd8"/>
<circle cx="222.2" cy="378.1" r="0.9" fill="#ecdcd8"/>
<circle cx="229.0" cy="298.3" r="0.9" fill="#ecdcd8"/>
<circle cx="229.0" cy="305.6" r="0.9" fill="#ecdcd8"/>
<circle cx="229.0" cy="312.9" r="0.9" fill="#ecdcd8"/>
<circle cx="229.0" cy="320.1" r="0.9" fill="#ecdcd8"/>
<circle cx="229.0" cy="327.4" r="0.9" fill="#ecdcd8"/>
<circle cx="229.0" cy="334.7" r="0.9" fill="#ecdcd8"/>
<circle cx="229.0" cy="342.0" r="0.9" fill="#ecdcd8"/>
<circle cx="229.0" cy="350.9" r="0.9" fill="#ecdcd8"/>
<circle cx="229.0" cy="357.7" r="1.1" fill="#c6b4b4"/>
<circle cx="229.0" cy="364.5" r="1.7" fill="#f3bab0"/>
<circle cx="229.0" cy="371.3" r="0.9" fill="#ecdcd8"/>
<circle cx="229.0" cy="378.1" r="1.1" fill="#c6b4b4"/>
<circle cx="235.8" cy="298.3" r="0.9" fill="#ecdcd8"/>
<circle cx="235.8" cy="305.6" r="0.9" fill="#ecdcd8"/>
<circle cx="235.8" cy="312.9" r="0.9" fill="#ecdcd8"/>
<circle cx="235.8" cy="320.1" r="0.9" fill="#ecdcd8"/>
<circle cx="235.8" cy="327.4" r="0.9" fill="#ecdcd8"/>
<circle cx="235.8" cy="334.7" r="0.9" fill="#ecdcd8"/>
<circle cx="235.8" cy="342.0" r="0.9" fill="#ecdcd8"/>
<circle cx="235.8" cy="350.9" r="0.9" fill="#ecdcd8"/>
<circle cx="235.8" cy="357.7" r="0.9" fill="#ecdcd8"/>
<circle cx="235.8" cy="364.5" r="0.9" fill="#ecdcd8"/>
<circle cx="235.8" cy="371.3" r="0.9" fill="#ecdcd8"/>
<circle cx="235.8" cy="378.1" r="0.9" fill="#ecdcd8"/>
<circle cx="242.6" cy="298.3" r="1.1" fill="#c6b4b4"/>
<circle cx="242.6" cy="305.6" r="1.1" fill="#c6b4b4"/>
<circle cx="242.6" cy="312.9" r="1.1" fill="#c6b4b4"/>
<circle cx="242.6" cy="320.1" r="1.1" fill="#c6b4b4"/>
<circle cx="242.6" cy="327.4" r="1.1" fill="#c6b4b4"/>
<circle cx="242.6" cy="334.7" r="1.1" fill="#c6b4b4"/>
<circle cx="242.6" cy="342.0" r="1.1" fill="#c6b4b4"/>
<circle cx="242.6" cy="350.9" r="1.1" fill="#c6b4b4"/>
<circle cx="242.6" cy="357.7" r="0.9" fill="#ecdcd8"/>
<circle cx="242.6" cy="364.5" r="1.1" fill="#c6b4b4"/>
<circle cx="242.6" cy="371.3" r="0.9" fill="#ecdcd8"/>
<circle cx="242.6" cy="378.1" r="0.9" fill="#ecdcd8"/>
<circle cx="249.4" cy="298.3" r="1.6" fill="#f9d6c2"/>
<circle cx="249.4" cy="305.6" r="1.6" fill="#f9d6c2"/>
<circle cx="249.4" cy="312.9" r="1.6" fill="#f9d6c2"/>
<circle cx="249.4" cy="320.1" r="1.6" fill="#f9d6c2"/>
<circle cx="249.4" cy="327.4" r="1.6" fill="#f9d6c2"/>
<circle cx="249.4" cy="334.7" r="1.6" fill="#f9d6c2"/>
<circle cx="249.4" cy="342.0" r="1.6" fill="#f9d6c2"/>
<circle cx="249.4" cy="350.9" r="1.7" fill="#f3bab0"/>
<circle cx="249.4" cy="357.7" r="0.9" fill="#ecdcd8"/>
<circle cx="249.4" cy="364.5" r="1.7" fill="#f3bab0"/>
<circle cx="249.4" cy="371.3" r="0.9" fill="#ecdcd8"/>
<circle cx="249.4" cy="378.1" r="0.9" fill="#ecdcd8"/>
<circle cx="256.2" cy="298.3" r="0.9" fill="#ecdcd8"/>
<circle cx="256.2" cy="305.6" r="0.9" fill="#ecdcd8"/>
<circle cx="256.2" cy="312.9" r="0.9" fill="#ecdcd8"/>
<circle cx="256.2" cy="320.1" r="0.9" fill="#ecdcd8"/>
<circle cx="256.2" cy="327.4" r="0.9" fill="#ecdcd8"/>
<circle cx="256.2" cy="334.7" r="0.9" fill="#ecdcd8"/>
<circle cx="256.2" cy="342.0" r="0.9" fill="#ecdcd8"/>
<circle cx="256.2" cy="350.9" r="1.7" fill="#f3bab0"/>
<circle cx="256.2" cy="357.7" r="0.9" fill="#ecdcd8"/>
<circle cx="256.2" cy="364.5" r="1.7" fill="#f3bab0"/>
<circle cx="256.2" cy="371.3" r="0.9" fill="#ecdcd8"/>
<circle cx="256.2" cy="378.1" r="1.7" fill="#f3bab0"/>
<circle cx="263.0" cy="298.3" r="0.9" fill="#ecdcd8"/>
<circle cx="263.0" cy="305.6" r="0.9" fill="#ecdcd8"/>
<circle cx="263.0" cy="312.9" r="0.9" fill="#ecdcd8"/>
<circle cx="263.0" cy="320.1" r="0.9" fill="#ecdcd8"/>
<circle cx="263.0" cy="327.4" r="0.9" fill="#ecdcd8"/>
<circle cx="263.0" cy="334.7" r="0.9" fill="#ecdcd8"/>
<circle cx="263.0" cy="342.0" r="0.9" fill="#ecdcd8"/>
<circle cx="263.0" cy="350.9" r="1.3" fill="#f2c0b8"/>
<circle cx="263.0" cy="357.7" r="0.9" fill="#ecdcd8"/>
<circle cx="263.0" cy="364.5" r="1.3" fill="#f2c0b8"/>
<circle cx="263.0" cy="371.3" r="0.9" fill="#ecdcd8"/>
<circle cx="263.0" cy="378.1" r="1.3" fill="#f2c0b8"/>
<circle cx="269.8" cy="298.3" r="0.9" fill="#ecdcd8"/>
<circle cx="269.8" cy="305.6" r="0.9" fill="#ecdcd8"/>
<circle cx="269.8" cy="312.9" r="0.9" fill="#ecdcd8"/>
<circle cx="269.8" cy="320.1" r="0.9" fill="#ecdcd8"/>
<circle cx="269.8" cy="327.4" r="0.9" fill="#ecdcd8"/>
<circle cx="269.8" cy="334.7" r="0.9" fill="#ecdcd8"/>
<circle cx="269.8" cy="342.0" r="0.9" fill="#ecdcd8"/>
<circle cx="269.8" cy="350.9" r="0.9" fill="#ecdcd8"/>
<circle cx="269.8" cy="357.7" r="0.9" fill="#ecdcd8"/>
<circle cx="269.8" cy="364.5" r="1.3" fill="#f2c0b8"/>
<circle cx="269.8" cy="371.3" r="0.9" fill="#ecdcd8"/>
<circle cx="269.8" cy="378.1" r="0.9" fill="#ecdcd8"/>
<circle cx="276.6" cy="298.3" r="0.9" fill="#ecdcd8"/>
<circle cx="276.6" cy="305.6" r="0.9" fill="#ecdcd8"/>
<circle cx="276.6" cy="312.9" r="0.9" fill="#ecdcd8"/>
<circle cx="276.6" cy="320.1" r="0.9" fill="#ecdcd8"/>
<circle cx="276.6" cy="327.4" r="0.9" fill="#ecdcd8"/>
<circle cx="276.6" cy="334.7" r="0.9" fill="#ecdcd8"/>
<circle cx="276.6" cy="342.0" r="0.9" fill="#ecdcd8"/>
<circle cx="276.6" cy="350.9" r="2.5" fill="#f3ac90" stroke="#8c7652" stroke-width="0.8"/>
<circle cx="276.6" cy="357.7" r="1.3" fill="#f2c0b8"/>
<circle cx="276.6" cy="364.5" r="2.5" fill="#f3ac90" stroke="#8c7652" stroke-width="0.8"/>
<circle cx="276.6" cy="371.3" r="1.1" fill="#c6b4b4"/>
<circle cx="276.6" cy="378.1" r="2.3" fill="#f9c6b2" stroke="#f2a088" stroke-width="0.8"/>
<circle cx="283.4" cy="298.3" r="1.1" fill="#c6b4b4"/>
<circle cx="283.4" cy="305.6" r="1.1" fill="#c6b4b4"/>
<circle cx="283.4" cy="312.9" r="1.1" fill="#c6b4b4"/>
<circle cx="283.4" cy="320.1" r="1.1" fill="#c6b4b4"/>
<circle cx="283.4" cy="327.4" r="0.9" fill="#ecdcd8"/>
<circle cx="283.4" cy="334.7" r="1.1" fill="#c6b4b4"/>
<circle cx="283.4" cy="342.0" r="1.1" fill="#c6b4b4"/>
<circle cx="283.4" cy="350.9" r="1.3" fill="#f2c0b8"/>
<circle cx="283.4" cy="357.7" r="1.3" fill="#f2c0b8"/>
<circle cx="283.4" cy="364.5" r="1.3" fill="#f2c0b8"/>
<circle cx="283.4" cy="371.3" r="1.1" fill="#c6b4b4"/>
<circle cx="283.4" cy="378.1" r="1.1" fill="#c6b4b4"/>
<circle cx="290.2" cy="298.3" r="1.1" fill="#c6b4b4"/>
<circle cx="290.2" cy="305.6" r="1.1" fill="#c6b4b4"/>
<circle cx="290.2" cy="312.9" r="1.1" fill="#c6b4b4"/>
<circle cx="290.2" cy="320.1" r="1.1" fill="#c6b4b4"/>
<circle cx="290.2" cy="327.4" r="0.9" fill="#ecdcd8"/>
<circle cx="290.2" cy="334.7" r="1.1" fill="#c6b4b4"/>
<circle cx="290.2" cy="342.0" r="1.1" fill="#c6b4b4"/>
<circle cx="290.2" cy="350.9" r="1.1" fill="#c6b4b4"/>
<circle cx="290.2" cy="357.7" r="1.1" fill="#c6b4b4"/>
<circle cx="290.2" cy="364.5" r="0.9" fill="#ecdcd8"/>
<circle cx="290.2" cy="371.3" r="0.9" fill="#ecdcd8"/>
<circle cx="290.2" cy="378.1" r="0.9" fill="#ecdcd8"/>
<circle cx="297.0" cy="298.3" r="2.3" fill="#f9c6b2" stroke="#f2a088" stroke-width="0.8"/>
<circle cx="297.0" cy="305.6" r="2.3" fill="#f9c6b2" stroke="#f2a088" stroke-width="0.8"/>
<circle cx="297.0" cy="312.9" r="2.3" fill="#f9c6b2" stroke="#f2a088" stroke-width="0.8"/>
<circle cx="297.0" cy="320.1" r="2.3" fill="#f9c6b2" stroke="#f2a088" stroke-width="0.8"/>
<circle cx="297.0" cy="327.4" r="0.9" fill="#ecdcd8"/>
<circle cx="297.0" cy="334.7" r="1.7" fill="#f3bab0"/>
<circle cx="297.0" cy="342.0" r="1.7" fill="#f3bab0"/>
<circle cx="297.0" cy="350.9" r="1.7" fill="#f3bab0"/>
<circle cx="297.0" cy="357.7" r="0.9" fill="#ecdcd8"/>
<circle cx="297.0" cy="364.5" r="1.3" fill="#f2c0b8"/>
<circle cx="297.0" cy="371.3" r="0.9" fill="#ecdcd8"/>
<circle cx="297.0" cy="378.1" r="0.9" fill="#ecdcd8"/>
<circle cx="303.8" cy="298.3" r="0.9" fill="#ecdcd8"/>
<circle cx="303.8" cy="305.6" r="0.9" fill="#ecdcd8"/>
<circle cx="303.8" cy="312.9" r="0.9" fill="#ecdcd8"/>
<circle cx="303.8" cy="320.1" r="0.9" fill="#ecdcd8"/>
<circle cx="303.8" cy="327.4" r="0.9" fill="#ecdcd8"/>
<circle cx="303.8" cy="334.7" r="0.9" fill="#ecdcd8"/>
<circle cx="303.8" cy="342.0" r="0.9" fill="#ecdcd8"/>
<circle cx="303.8" cy="350.9" r="1.3" fill="#f2c0b8"/>
<circle cx="303.8" cy="357.7" r="0.9" fill="#ecdcd8"/>
<circle cx="303.8" cy="364.5" r="1.3" fill="#f2c0b8"/>
<circle cx="303.8" cy="371.3" r="0.9" fill="#ecdcd8"/>
<circle cx="303.8" cy="378.1" r="0.9" fill="#ecdcd8"/>
<circle cx="310.6" cy="298.3" r="0.9" fill="#ecdcd8"/>
<circle cx="310.6" cy="305.6" r="0.9" fill="#ecdcd8"/>
<circle cx="310.6" cy="312.9" r="0.9" fill="#ecdcd8"/>
<circle cx="310.6" cy="320.1" r="0.9" fill="#ecdcd8"/>
<circle cx="310.6" cy="327.4" r="0.9" fill="#ecdcd8"/>
<circle cx="310.6" cy="334.7" r="0.9" fill="#ecdcd8"/>
<circle cx="310.6" cy="342.0" r="0.9" fill="#ecdcd8"/>
<circle cx="310.6" cy="350.9" r="0.9" fill="#ecdcd8"/>
<circle cx="310.6" cy="357.7" r="0.9" fill="#ecdcd8"/>
<circle cx="310.6" cy="364.5" r="1.3" fill="#f2c0b8"/>
<circle cx="310.6" cy="371.3" r="0.9" fill="#ecdcd8"/>
<circle cx="310.6" cy="378.1" r="0.9" fill="#ecdcd8"/>
<circle cx="317.4" cy="298.3" r="1.1" fill="#c6b4b4"/>
<circle cx="317.4" cy="305.6" r="1.1" fill="#c6b4b4"/>
<circle cx="317.4" cy="312.9" r="1.1" fill="#c6b4b4"/>
<circle cx="317.4" cy="320.1" r="1.1" fill="#c6b4b4"/>
<circle cx="317.4" cy="327.4" r="1.1" fill="#c6b4b4"/>
<circle cx="317.4" cy="334.7" r="1.1" fill="#c6b4b4"/>
<circle cx="317.4" cy="342.0" r="1.1" fill="#c6b4b4"/>
<circle cx="317.4" cy="350.9" r="1.3" fill="#f2c0b8"/>
<circle cx="317.4" cy="357.7" r="1.1" fill="#c6b4b4"/>
<circle cx="317.4" cy="364.5" r="1.3" fill="#f2c0b8"/>
<circle cx="317.4" cy="371.3" r="1.1" fill="#c6b4b4"/>
<circle cx="317.4" cy="378.1" r="1.7" fill="#f3bab0"/>
<circle cx="324.2" cy="298.3" r="1.1" fill="#c6b4b4"/>
<circle cx="324.2" cy="305.6" r="1.1" fill="#c6b4b4"/>
<circle cx="324.2" cy="312.9" r="1.1" fill="#c6b4b4"/>
<circle cx="324.2" cy="320.1" r="1.1" fill="#c6b4b4"/>
<circle cx="324.2" cy="327.4" r="1.1" fill="#c6b4b4"/>
<circle cx="324.2" cy="334.7" r="1.1" fill="#c6b4b4"/>
<circle cx="324.2" cy="342.0" r="1.1" fill="#c6b4b4"/>
<circle cx="324.2" cy="350.9" r="1.1" fill="#c6b4b4"/>
<circle cx="324.2" cy="357.7" r="0.9" fill="#ecdcd8"/>
<circle cx="324.2" cy="364.5" r="1.1" fill="#c6b4b4"/>
<circle cx="324.2" cy="371.3" r="0.9" fill="#ecdcd8"/>
<circle cx="324.2" cy="378.1" r="1.1" fill="#c6b4b4"/>
<circle cx="331.0" cy="298.3" r="0.9" fill="#ecdcd8"/>
<circle cx="331.0" cy="305.6" r="0.9" fill="#ecdcd8"/>
<circle cx="331.0" cy="312.9" r="0.9" fill="#ecdcd8"/>
<circle cx="331.0" cy="320.1" r="0.9" fill="#ecdcd8"/>
<circle cx="331.0" cy="327.4" r="0.9" fill="#ecdcd8"/>
<circle cx="331.0" cy="334.7" r="0.9" fill="#ecdcd8"/>
<circle cx="331.0" cy="342.0" r="0.9" fill="#ecdcd8"/>
<circle cx="331.0" cy="350.9" r="1.1" fill="#c6b4b4"/>
<circle cx="331.0" cy="357.7" r="1.1" fill="#c6b4b4"/>
<circle cx="331.0" cy="364.5" r="1.1" fill="#c6b4b4"/>
<circle cx="331.0" cy="371.3" r="0.9" fill="#ecdcd8"/>
<circle cx="331.0" cy="378.1" r="0.9" fill="#ecdcd8"/>
<circle cx="337.8" cy="298.3" r="1.1" fill="#c6b4b4"/>
<circle cx="337.8" cy="305.6" r="1.1" fill="#c6b4b4"/>
<circle cx="337.8" cy="312.9" r="1.1" fill="#c6b4b4"/>
<circle cx="337.8" cy="320.1" r="1.1" fill="#c6b4b4"/>
<circle cx="337.8" cy="327.4" r="1.1" fill="#c6b4b4"/>
<circle cx="337.8" cy="334.7" r="1.1" fill="#c6b4b4"/>
<circle cx="337.8" cy="342.0" r="1.1" fill="#c6b4b4"/>
<circle cx="337.8" cy="350.9" r="1.7" fill="#f3bab0"/>
<circle cx="337.8" cy="357.7" r="0.9" fill="#ecdcd8"/>
<circle cx="337.8" cy="364.5" r="1.1" fill="#c6b4b4"/>
<circle cx="337.8" cy="371.3" r="0.9" fill="#ecdcd8"/>
<circle cx="337.8" cy="378.1" r="1.1" fill="#c6b4b4"/>
<circle cx="344.6" cy="298.3" r="1.1" fill="#c6b4b4"/>
<circle cx="344.6" cy="305.6" r="1.1" fill="#c6b4b4"/>
<circle cx="344.6" cy="312.9" r="1.1" fill="#c6b4b4"/>
<circle cx="344.6" cy="320.1" r="1.1" fill="#c6b4b4"/>
<circle cx="344.6" cy="327.4" r="1.7" fill="#f3bab0"/>
<circle cx="344.6" cy="334.7" r="1.1" fill="#c6b4b4"/>
<circle cx="344.6" cy="342.0" r="1.1" fill="#c6b4b4"/>
<circle cx="344.6" cy="350.9" r="1.3" fill="#f2c0b8"/>
<circle cx="344.6" cy="357.7" r="0.9" fill="#ecdcd8"/>
<circle cx="344.6" cy="364.5" r="1.1" fill="#c6b4b4"/>
<circle cx="344.6" cy="371.3" r="0.9" fill="#ecdcd8"/>
<circle cx="344.6" cy="378.1" r="0.9" fill="#ecdcd8"/>
<circle cx="351.4" cy="298.3" r="0.9" fill="#ecdcd8"/>
<circle cx="351.4" cy="305.6" r="0.9" fill="#ecdcd8"/>
<circle cx="351.4" cy="312.9" r="0.9" fill="#ecdcd8"/>
<circle cx="351.4" cy="320.1" r="0.9" fill="#ecdcd8"/>
<circle cx="351.4" cy="327.4" r="0.9" fill="#ecdcd8"/>
<circle cx="351.4" cy="334.7" r="0.9" fill="#ecdcd8"/>
<circle cx="351.4" cy="342.0" r="0.9" fill="#ecdcd8"/>
<circle cx="351.4" cy="350.9" r="0.9" fill="#ecdcd8"/>
<circle cx="351.4" cy="357.7" r="0.9" fill="#ecdcd8"/>
<circle cx="351.4" cy="364.5" r="0.9" fill="#ecdcd8"/>
<circle cx="351.4" cy="371.3" r="0.9" fill="#ecdcd8"/>
<circle cx="351.4" cy="378.1" r="0.9" fill="#ecdcd8"/>
<circle cx="358.2" cy="298.3" r="0.9" fill="#ecdcd8"/>
<circle cx="358.2" cy="305.6" r="0.9" fill="#ecdcd8"/>
<circle cx="358.2" cy="312.9" r="0.9" fill="#ecdcd8"/>
<circle cx="358.2" cy="320.1" r="0.9" fill="#ecdcd8"/>
<circle cx="358.2" cy="327.4" r="0.9" fill="#ecdcd8"/>
<circle cx="358.2" cy="334.7" r="0.9" fill="#ecdcd8"/>
<circle cx="358.2" cy="342.0" r="0.9" fill="#ecdcd8"/>
<circle cx="358.2" cy="350.9" r="0.9" fill="#ecdcd8"/>
<circle cx="358.2" cy="357.7" r="0.9" fill="#ecdcd8"/>
<circle cx="358.2" cy="364.5" r="0.9" fill="#ecdcd8"/>
<circle cx="358.2" cy="371.3" r="0.9" fill="#ecdcd8"/>
<circle cx="358.2" cy="378.1" r="0.9" fill="#ecdcd8"/>
<circle cx="365.0" cy="298.3" r="0.9" fill="#ecdcd8"/>
<circle cx="365.0" cy="305.6" r="0.9" fill="#ecdcd8"/>
<circle cx="365.0" cy="312.9" r="0.9" fill="#ecdcd8"/>
<circle cx="365.0" cy="320.1" r="0.9" fill="#ecdcd8"/>
<circle cx="365.0" cy="327.4" r="1.1" fill="#c6b4b4"/>
<circle cx="365.0" cy="334.7" r="0.9" fill="#ecdcd8"/>
<circle cx="365.0" cy="342.0" r="0.9" fill="#ecdcd8"/>
<circle cx="365.0" cy="350.9" r="1.1" fill="#c6b4b4"/>
<circle cx="365.0" cy="357.7" r="0.9" fill="#ecdcd8"/>
<circle cx="365.0" cy="364.5" r="1.1" fill="#c6b4b4"/>
<circle cx="365.0" cy="371.3" r="0.9" fill="#ecdcd8"/>
<circle cx="365.0" cy="378.1" r="1.1" fill="#c6b4b4"/>
<circle cx="371.8" cy="298.3" r="0.9" fill="#ecdcd8"/>
<circle cx="371.8" cy="305.6" r="1.6" fill="#f9d6c2"/>
<circle cx="371.8" cy="312.9" r="1.6" fill="#f9d6c2"/>
<circle cx="371.8" cy="320.1" r="1.6" fill="#f9d6c2"/>
<circle cx="371.8" cy="327.4" r="0.9" fill="#ecdcd8"/>
<circle cx="371.8" cy="334.7" r="0.9" fill="#ecdcd8"/>
<circle cx="371.8" cy="342.0" r="0.9" fill="#ecdcd8"/>
<circle cx="371.8" cy="350.9" r="1.3" fill="#f2c0b8"/>
<circle cx="371.8" cy="357.7" r="0.9" fill="#ecdcd8"/>
<circle cx="371.8" cy="364.5" r="1.7" fill="#f3bab0"/>
<circle cx="371.8" cy="371.3" r="0.9" fill="#ecdcd8"/>
<circle cx="371.8" cy="378.1" r="0.9" fill="#ecdcd8"/>
<circle cx="378.6" cy="298.3" r="0.9" fill="#ecdcd8"/>
<circle cx="378.6" cy="305.6" r="1.3" fill="#5c7c60"/>
<circle cx="378.6" cy="312.9" r="0.9" fill="#ecdcd8"/>
<circle cx="378.6" cy="320.1" r="1.3" fill="#5c7c60"/>
<circle cx="378.6" cy="327.4" r="0.9" fill="#ecdcd8"/>
<circle cx="378.6" cy="334.7" r="0.9" fill="#ecdcd8"/>
<circle cx="378.6" cy="342.0" r="0.9" fill="#ecdcd8"/>
<circle cx="378.6" cy="350.9" r="1.3" fill="#f2c0b8"/>
<circle cx="378.6" cy="357.7" r="1.1" fill="#c6b4b4"/>
<circle cx="378.6" cy="364.5" r="1.3" fill="#f2c0b8"/>
<circle cx="378.6" cy="371.3" r="0.9" fill="#ecdcd8"/>
<circle cx="378.6" cy="378.1" r="0.9" fill="#ecdcd8"/>
<circle cx="385.4" cy="298.3" r="0.9" fill="#ecdcd8"/>
<circle cx="385.4" cy="305.6" r="0.9" fill="#ecdcd8"/>
<circle cx="385.4" cy="312.9" r="0.9" fill="#ecdcd8"/>
<circle cx="385.4" cy="320.1" r="0.9" fill="#ecdcd8"/>
<circle cx="385.4" cy="327.4" r="0.9" fill="#ecdcd8"/>
<circle cx="385.4" cy="334.7" r="0.9" fill="#ecdcd8"/>
<circle cx="385.4" cy="342.0" r="0.9" fill="#ecdcd8"/>
<circle cx="385.4" cy="350.9" r="0.9" fill="#ecdcd8"/>
<circle cx="385.4" cy="357.7" r="0.9" fill="#ecdcd8"/>
<circle cx="385.4" cy="364.5" r="1.1" fill="#c6b4b4"/>
<circle cx="385.4" cy="371.3" r="0.9" fill="#ecdcd8"/>
<circle cx="385.4" cy="378.1" r="0.9" fill="#ecdcd8"/>
<circle cx="392.2" cy="298.3" r="0.9" fill="#ecdcd8"/>
<circle cx="392.2" cy="305.6" r="0.9" fill="#ecdcd8"/>
<circle cx="392.2" cy="312.9" r="0.9" fill="#ecdcd8"/>
<circle cx="392.2" cy="320.1" r="0.9" fill="#ecdcd8"/>
<circle cx="392.2" cy="327.4" r="0.9" fill="#ecdcd8"/>
<circle cx="392.2" cy="334.7" r="0.9" fill="#ecdcd8"/>
<circle cx="392.2" cy="342.0" r="0.9" fill="#ecdcd8"/>
<circle cx="392.2" cy="350.9" r="1.7" fill="#f3bab0"/>
<circle cx="392.2" cy="357.7" r="0.9" fill="#ecdcd8"/>
<circle cx="392.2" cy="364.5" r="1.1" fill="#c6b4b4"/>
<circle cx="392.2" cy="371.3" r="0.9" fill="#ecdcd8"/>
<circle cx="392.2" cy="378.1" r="0.9" fill="#ecdcd8"/>
<circle cx="399.0" cy="298.3" r="1.3" fill="#f2c0b8"/>
<circle cx="399.0" cy="305.6" r="1.3" fill="#f2c0b8"/>
<circle cx="399.0" cy="312.9" r="1.3" fill="#f2c0b8"/>
<circle cx="399.0" cy="320.1" r="1.3" fill="#f2c0b8"/>
<circle cx="399.0" cy="327.4" r="1.3" fill="#f2c0b8"/>
<circle cx="399.0" cy="334.7" r="1.3" fill="#f2c0b8"/>
<circle cx="399.0" cy="342.0" r="1.3" fill="#f2c0b8"/>
<circle cx="399.0" cy="350.9" r="1.3" fill="#f2c0b8"/>
<circle cx="399.0" cy="357.7" r="1.1" fill="#c6b4b4"/>
<circle cx="399.0" cy="364.5" r="1.3" fill="#f2c0b8"/>
<circle cx="399.0" cy="371.3" r="0.9" fill="#ecdcd8"/>
<circle cx="399.0" cy="378.1" r="0.9" fill="#ecdcd8"/>
<circle cx="405.8" cy="298.3" r="1.3" fill="#f2c0b8"/>
<circle cx="405.8" cy="305.6" r="1.3" fill="#f2c0b8"/>
<circle cx="405.8" cy="312.9" r="1.3" fill="#f2c0b8"/>
<circle cx="405.8" cy="320.1" r="1.3" fill="#f2c0b8"/>
<circle cx="405.8" cy="327.4" r="1.7" fill="#f3bab0"/>
<circle cx="405.8" cy="334.7" r="1.7" fill="#f3bab0"/>
<circle cx="405.8" cy="342.0" r="1.7" fill="#f3bab0"/>
<circle cx="405.8" cy="350.9" r="1.3" fill="#f2c0b8"/>
<circle cx="405.8" cy="357.7" r="1.1" fill="#c6b4b4"/>
<circle cx="405.8" cy="364.5" r="1.7" fill="#f3bab0"/>
<circle cx="405.8" cy="371.3" r="0.9" fill="#ecdcd8"/>
<circle cx="405.8" cy="378.1" r="0.9" fill="#ecdcd8"/>
<circle cx="412.6" cy="298.3" r="0.9" fill="#ecdcd8"/>
<circle cx="412.6" cy="305.6" r="0.9" fill="#ecdcd8"/>
<circle cx="412.6" cy="312.9" r="0.9" fill="#ecdcd8"/>
<circle cx="412.6" cy="320.1" r="0.9" fill="#ecdcd8"/>
<circle cx="412.6" cy="327.4" r="0.9" fill="#ecdcd8"/>
<circle cx="412.6" cy="334.7" r="0.9" fill="#ecdcd8"/>
<circle cx="412.6" cy="342.0" r="0.9" fill="#ecdcd8"/>
<circle cx="412.6" cy="350.9" r="0.9" fill="#ecdcd8"/>
<circle cx="412.6" cy="357.7" r="0.9" fill="#ecdcd8"/>
<circle cx="412.6" cy="364.5" r="0.9" fill="#ecdcd8"/>
<circle cx="412.6" cy="371.3" r="0.9" fill="#ecdcd8"/>
<circle cx="412.6" cy="378.1" r="0.9" fill="#ecdcd8"/>
<circle cx="419.4" cy="298.3" r="1.1" fill="#c6b4b4"/>
<circle cx="419.4" cy="305.6" r="1.1" fill="#c6b4b4"/>
<circle cx="419.4" cy="312.9" r="1.1" fill="#c6b4b4"/>
<circle cx="419.4" cy="320.1" r="1.1" fill="#c6b4b4"/>
<circle cx="419.4" cy="327.4" r="0.9" fill="#ecdcd8"/>
<circle cx="419.4" cy="334.7" r="1.1" fill="#c6b4b4"/>
<circle cx="419.4" cy="342.0" r="0.9" fill="#ecdcd8"/>
<circle cx="419.4" cy="350.9" r="1.1" fill="#c6b4b4"/>
<circle cx="419.4" cy="357.7" r="0.9" fill="#ecdcd8"/>
<circle cx="419.4" cy="364.5" r="1.1" fill="#c6b4b4"/>
<circle cx="419.4" cy="371.3" r="0.9" fill="#ecdcd8"/>
<circle cx="419.4" cy="378.1" r="0.9" fill="#ecdcd8"/>
<circle cx="426.2" cy="298.3" r="0.9" fill="#ecdcd8"/>
<circle cx="426.2" cy="305.6" r="0.9" fill="#ecdcd8"/>
<circle cx="426.2" cy="312.9" r="0.9" fill="#ecdcd8"/>
<circle cx="426.2" cy="320.1" r="0.9" fill="#ecdcd8"/>
<circle cx="426.2" cy="327.4" r="0.9" fill="#ecdcd8"/>
<circle cx="426.2" cy="334.7" r="1.7" fill="#f3bab0"/>
<circle cx="426.2" cy="342.0" r="1.7" fill="#f3bab0"/>
<circle cx="426.2" cy="350.9" r="1.3" fill="#f2c0b8"/>
<circle cx="426.2" cy="357.7" r="0.9" fill="#ecdcd8"/>
<circle cx="426.2" cy="364.5" r="1.1" fill="#c6b4b4"/>
<circle cx="426.2" cy="371.3" r="0.9" fill="#ecdcd8"/>
<circle cx="426.2" cy="378.1" r="1.1" fill="#c6b4b4"/>
<circle cx="433.0" cy="298.3" r="0.9" fill="#ecdcd8"/>
<circle cx="433.0" cy="305.6" r="0.9" fill="#ecdcd8"/>
<circle cx="433.0" cy="312.9" r="0.9" fill="#ecdcd8"/>
<circle cx="433.0" cy="320.1" r="0.9" fill="#ecdcd8"/>
<circle cx="433.0" cy="327.4" r="0.9" fill="#ecdcd8"/>
<circle cx="433.0" cy="334.7" r="0.9" fill="#ecdcd8"/>
<circle cx="433.0" cy="342.0" r="0.9" fill="#ecdcd8"/>
<circle cx="433.0" cy="350.9" r="0.9" fill="#ecdcd8"/>
<circle cx="433.0" cy="357.7" r="0.9" fill="#ecdcd8"/>
<circle cx="433.0" cy="364.5" r="0.9" fill="#ecdcd8"/>
<circle cx="433.0" cy="371.3" r="0.9" fill="#ecdcd8"/>
<circle cx="433.0" cy="378.1" r="0.9" fill="#ecdcd8"/>
<circle cx="439.8" cy="298.3" r="1.1" fill="#c6b4b4"/>
<circle cx="439.8" cy="305.6" r="1.1" fill="#c6b4b4"/>
<circle cx="439.8" cy="312.9" r="1.1" fill="#c6b4b4"/>
<circle cx="439.8" cy="320.1" r="1.1" fill="#c6b4b4"/>
<circle cx="439.8" cy="327.4" r="1.1" fill="#c6b4b4"/>
<circle cx="439.8" cy="334.7" r="1.1" fill="#c6b4b4"/>
<circle cx="439.8" cy="342.0" r="1.1" fill="#c6b4b4"/>
<circle cx="439.8" cy="350.9" r="2.5" fill="#f3ac90" stroke="#8c7652" stroke-width="0.8"/>
<circle cx="439.8" cy="357.7" r="1.7" fill="#f3bab0"/>
<circle cx="439.8" cy="364.5" r="2.5" fill="#f3ac90" stroke="#8c7652" stroke-width="0.8"/>
<circle cx="439.8" cy="371.3" r="1.7" fill="#f3bab0"/>
<circle cx="439.8" cy="378.1" r="2.3" fill="#f9c6b2" stroke="#f2a088" stroke-width="0.8"/>
<circle cx="446.6" cy="298.3" r="0.9" fill="#ecdcd8"/>
<circle cx="446.6" cy="305.6" r="0.9" fill="#ecdcd8"/>
<circle cx="446.6" cy="312.9" r="0.9" fill="#ecdcd8"/>
<circle cx="446.6" cy="320.1" r="0.9" fill="#ecdcd8"/>
<circle cx="446.6" cy="327.4" r="0.9" fill="#ecdcd8"/>
<circle cx="446.6" cy="334.7" r="0.9" fill="#ecdcd8"/>
<circle cx="446.6" cy="342.0" r="0.9" fill="#ecdcd8"/>
<circle cx="446.6" cy="350.9" r="1.7" fill="#f3bab0"/>
<circle cx="446.6" cy="357.7" r="0.9" fill="#ecdcd8"/>
<circle cx="446.6" cy="364.5" r="1.7" fill="#f3bab0"/>
<circle cx="446.6" cy="371.3" r="0.9" fill="#ecdcd8"/>
<circle cx="446.6" cy="378.1" r="0.9" fill="#ecdcd8"/>
<circle cx="453.4" cy="298.3" r="1.1" fill="#c6b4b4"/>
<circle cx="453.4" cy="305.6" r="1.1" fill="#c6b4b4"/>
<circle cx="453.4" cy="312.9" r="1.1" fill="#c6b4b4"/>
<circle cx="453.4" cy="320.1" r="1.1" fill="#c6b4b4"/>
<circle cx="453.4" cy="327.4" r="1.1" fill="#c6b4b4"/>
<circle cx="453.4" cy="334.7" r="2.3" fill="#f9c6b2" stroke="#f2a088" stroke-width="0.8"/>
<circle cx="453.4" cy="342.0" r="2.3" fill="#f9c6b2" stroke="#f2a088" stroke-width="0.8"/>
<circle cx="453.4" cy="350.9" r="2.3" fill="#f9c6b2" stroke="#f2a088" stroke-width="0.8"/>
<circle cx="453.4" cy="357.7" r="1.7" fill="#f3bab0"/>
<circle cx="453.4" cy="364.5" r="2.3" fill="#f9c6b2" stroke="#f2a088" stroke-width="0.8"/>
<circle cx="453.4" cy="371.3" r="0.9" fill="#ecdcd8"/>
<circle cx="453.4" cy="378.1" r="1.7" fill="#f3bab0"/>
<circle cx="460.2" cy="298.3" r="1.1" fill="#c6b4b4"/>
<circle cx="460.2" cy="305.6" r="1.1" fill="#c6b4b4"/>
<circle cx="460.2" cy="312.9" r="1.1" fill="#c6b4b4"/>
<circle cx="460.2" cy="320.1" r="1.1" fill="#c6b4b4"/>
<circle cx="460.2" cy="327.4" r="1.1" fill="#c6b4b4"/>
<circle cx="460.2" cy="334.7" r="1.1" fill="#c6b4b4"/>
<circle cx="460.2" cy="342.0" r="1.1" fill="#c6b4b4"/>
<circle cx="460.2" cy="350.9" r="1.3" fill="#f2c0b8"/>
<circle cx="460.2" cy="357.7" r="1.3" fill="#f2c0b8"/>
<circle cx="460.2" cy="364.5" r="1.3" fill="#f2c0b8"/>
<circle cx="460.2" cy="371.3" r="1.3" fill="#f2c0b8"/>
<circle cx="460.2" cy="378.1" r="1.3" fill="#f2c0b8"/>
<circle cx="467.0" cy="298.3" r="1.3" fill="#f2c0b8"/>
<circle cx="467.0" cy="305.6" r="1.3" fill="#f2c0b8"/>
<circle cx="467.0" cy="312.9" r="1.3" fill="#f2c0b8"/>
<circle cx="467.0" cy="320.1" r="1.3" fill="#f2c0b8"/>
<circle cx="467.0" cy="327.4" r="1.3" fill="#f2c0b8"/>
<circle cx="467.0" cy="334.7" r="1.3" fill="#f2c0b8"/>
<circle cx="467.0" cy="342.0" r="1.3" fill="#f2c0b8"/>
<circle cx="467.0" cy="350.9" r="2.3" fill="#f9c6b2" stroke="#f2a088" stroke-width="0.8"/>
<circle cx="467.0" cy="357.7" r="1.3" fill="#f2c0b8"/>
<circle cx="467.0" cy="364.5" r="2.3" fill="#f9c6b2" stroke="#f2a088" stroke-width="0.8"/>
<circle cx="467.0" cy="371.3" r="0.9" fill="#ecdcd8"/>
<circle cx="467.0" cy="378.1" r="2.3" fill="#f9c6b2" stroke="#f2a088" stroke-width="0.8"/>
<circle cx="473.8" cy="298.3" r="1.1" fill="#c6b4b4"/>
<circle cx="473.8" cy="305.6" r="1.1" fill="#c6b4b4"/>
<circle cx="473.8" cy="312.9" r="1.7" fill="#f3bab0"/>
<circle cx="473.8" cy="320.1" r="1.1" fill="#c6b4b4"/>
<circle cx="473.8" cy="327.4" r="1.1" fill="#c6b4b4"/>
<circle cx="473.8" cy="334.7" r="1.1" fill="#c6b4b4"/>
<circle cx="473.8" cy="342.0" r="1.1" fill="#c6b4b4"/>
<circle cx="473.8" cy="350.9" r="1.7" fill="#f3bab0"/>
<circle cx="473.8" cy="357.7" r="1.3" fill="#f2c0b8"/>
<circle cx="473.8" cy="364.5" r="1.7" fill="#f3bab0"/>
<circle cx="473.8" cy="371.3" r="0.9" fill="#ecdcd8"/>
<circle cx="473.8" cy="378.1" r="1.7" fill="#f3bab0"/>
<circle cx="480.6" cy="298.3" r="2.3" fill="#f9c6b2" stroke="#f2a088" stroke-width="0.8"/>
<circle cx="480.6" cy="305.6" r="2.3" fill="#f9c6b2" stroke="#f2a088" stroke-width="0.8"/>
<circle cx="480.6" cy="312.9" r="2.3" fill="#f9c6b2" stroke="#f2a088" stroke-width="0.8"/>
<circle cx="480.6" cy="320.1" r="2.3" fill="#f9c6b2" stroke="#f2a088" stroke-width="0.8"/>
<circle cx="480.6" cy="327.4" r="2.3" fill="#f9c6b2" stroke="#f2a088" stroke-width="0.8"/>
<circle cx="480.6" cy="334.7" r="2.3" fill="#f9c6b2" stroke="#f2a088" stroke-width="0.8"/>
<circle cx="480.6" cy="342.0" r="2.3" fill="#f9c6b2" stroke="#f2a088" stroke-width="0.8"/>
<circle cx="480.6" cy="350.9" r="2.3" fill="#f9c6b2" stroke="#f2a088" stroke-width="0.8"/>
<circle cx="480.6" cy="357.7" r="1.7" fill="#f3bab0"/>
<circle cx="480.6" cy="364.5" r="2.5" fill="#f3ac90" stroke="#8c7652" stroke-width="0.8"/>
<circle cx="480.6" cy="371.3" r="2.3" fill="#f9c6b2" stroke="#f2a088" stroke-width="0.8"/>
<circle cx="480.6" cy="378.1" r="2.3" fill="#f9c6b2" stroke="#f2a088" stroke-width="0.8"/>
<circle cx="487.4" cy="298.3" r="0.9" fill="#ecdcd8"/>
<circle cx="487.4" cy="305.6" r="0.9" fill="#ecdcd8"/>
<circle cx="487.4" cy="312.9" r="0.9" fill="#ecdcd8"/>
<circle cx="487.4" cy="320.1" r="0.9" fill="#ecdcd8"/>
<circle cx="487.4" cy="327.4" r="0.9" fill="#ecdcd8"/>
<circle cx="487.4" cy="334.7" r="0.9" fill="#ecdcd8"/>
<circle cx="487.4" cy="342.0" r="0.9" fill="#ecdcd8"/>
<circle cx="487.4" cy="350.9" r="1.3" fill="#f2c0b8"/>
<circle cx="487.4" cy="357.7" r="1.1" fill="#c6b4b4"/>
<circle cx="487.4" cy="364.5" r="1.3" fill="#f2c0b8"/>
<circle cx="487.4" cy="371.3" r="0.9" fill="#ecdcd8"/>
<circle cx="487.4" cy="378.1" r="0.9" fill="#ecdcd8"/>
<circle cx="494.2" cy="298.3" r="1.6" fill="#f9d6c2"/>
<circle cx="494.2" cy="305.6" r="1.6" fill="#f9d6c2"/>
<circle cx="494.2" cy="312.9" r="1.6" fill="#f9d6c2"/>
<circle cx="494.2" cy="320.1" r="1.6" fill="#f9d6c2"/>
<circle cx="494.2" cy="327.4" r="1.6" fill="#f9d6c2"/>
<circle cx="494.2" cy="334.7" r="1.6" fill="#f9d6c2"/>
<circle cx="494.2" cy="342.0" r="1.6" fill="#f9d6c2"/>
<circle cx="494.2" cy="350.9" r="1.7" fill="#f3bab0"/>
<circle cx="494.2" cy="357.7" r="1.1" fill="#c6b4b4"/>
<circle cx="494.2" cy="364.5" r="1.7" fill="#f3bab0"/>
<circle cx="494.2" cy="371.3" r="0.9" fill="#ecdcd8"/>
<circle cx="494.2" cy="378.1" r="1.1" fill="#c6b4b4"/>
</g>
<rect x="7.2" y="347.2" width="294" height="34.3" fill="none"/>
<rect x="7.2" y="347.2" width="494" height="34.3" fill="none" stroke="#86baba" stroke-width="1.2"/>
<text x="161.7" y="300.3" font-size="6.5" fill="#4a4a4a" stroke="#4a4a4a" stroke-width="0.18" text-anchor="end">blood.B cell</text>
<text x="161.7" y="307.6" font-size="6.5" fill="#4a4a4a" stroke="#4a4a4a" stroke-width="0.18" text-anchor="end">blood.T cell</text>
<text x="161.7" y="314.9" font-size="6.5" fill="#4a4a4a" stroke="#4a4a4a" stroke-width="0.18" text-anchor="end">blood.natural killer cell</text>
<text x="161.7" y="322.1" font-size="6.5" fill="#4a4a4a" stroke="#4a4a4a" stroke-width="0.18" text-anchor="end">blood.lymphocyte</text>
<text x="161.7" y="329.4" font-size="6.5" fill="#4a4a4a" stroke="#4a4a4a" stroke-width="0.18" text-anchor="end">blood.macrophage</text>
<text x="161.7" y="336.7" font-size="6.5" fill="#4a4a4a" stroke="#4a4a4a" stroke-width="0.18" text-anchor="end">blood.monocyte</text>
<text x="161.7" y="344.0" font-size="6.5" fill="#4a4a4a" stroke="#4a4a4a" stroke-width="0.18" text-anchor="end">blood.mononuclear phagocyte</text>
<text x="161.7" y="352.9" font-size="6.5" fill="#4a4a4a" stroke="#4a4a4a" stroke-width="0.18" text-anchor="end">blood.platelet</text>
<text x="161.7" y="359.7" font-size="6.5" fill="#4a4a4a" stroke="#4a4a4a" stroke-width="0.18" text-anchor="end">bone marrow.megakaryocyte</text>
<text x="161.7" y="366.5" font-size="6.5" fill="#4a4a4a" stroke="#4a4a4a" stroke-width="0.18" text-anchor="end">blood.megakaryocyte</text>
<text x="161.7" y="373.3" font-size="6.5" fill="#4a4a4a" stroke="#4a4a4a" stroke-width="0.18" text-anchor="end">bone marrow.megakaryocyte-erythroid progenitor cell</text>
<text x="161.7" y="380.1" font-size="6.5" fill="#4a4a4a" stroke="#4a4a4a" stroke-width="0.18" text-anchor="end">blood.megakaryocyte-erythroid progenitor cell</text>
<text transform="translate(169.9,387.6) rotate(-90)" font-size="6.3" fill="#3a3a3a" stroke="#3a3a3a" stroke-width="0.18" text-anchor="end">RAD21L1</text>
<text transform="translate(176.7,387.6) rotate(-90)" font-size="6.3" fill="#ef625a" stroke="#ef625a" stroke-width="0.18" text-anchor="end">SNPH</text>
<text transform="translate(183.5,387.6) rotate(-90)" font-size="6.3" fill="#3a3a3a" stroke="#3a3a3a" stroke-width="0.18" text-anchor="end">VLDLR</text>
<text transform="translate(190.3,387.6) rotate(-90)" font-size="6.3" fill="#3a3a3a" stroke="#3a3a3a" stroke-width="0.18" text-anchor="end">VLDLR-AS1</text>
<text transform="translate(197.1,387.6) rotate(-90)" font-size="6.3" fill="#3a3a3a" stroke="#3a3a3a" stroke-width="0.18" text-anchor="end">ATXN1</text>
<text transform="translate(203.9,387.6) rotate(-90)" font-size="6.3" fill="#ef625a" stroke="#ef625a" stroke-width="0.18" text-anchor="end">CAP2</text>
<text transform="translate(210.7,387.6) rotate(-90)" font-size="6.3" fill="#3a3a3a" stroke="#3a3a3a" stroke-width="0.18" text-anchor="end">KIF13A</text>
<text transform="translate(217.5,387.6) rotate(-90)" font-size="6.3" fill="#3a3a3a" stroke="#3a3a3a" stroke-width="0.18" text-anchor="end">RNF144B</text>
<text transform="translate(224.3,387.6) rotate(-90)" font-size="6.3" fill="#3a3a3a" stroke="#3a3a3a" stroke-width="0.18" text-anchor="end">KDM1B</text>
<text transform="translate(231.1,387.6) rotate(-90)" font-size="6.3" fill="#3a3a3a" stroke="#3a3a3a" stroke-width="0.18" text-anchor="end">NHLRC1</text>
<text transform="translate(237.9,387.6) rotate(-90)" font-size="6.3" fill="#3a3a3a" stroke="#3a3a3a" stroke-width="0.18" text-anchor="end">TPMT</text>
<text transform="translate(244.7,387.6) rotate(-90)" font-size="6.3" fill="#ef625a" stroke="#ef625a" stroke-width="0.18" text-anchor="end">NAV2</text>
<text transform="translate(251.5,387.6) rotate(-90)" font-size="6.3" fill="#3a3a3a" stroke="#3a3a3a" stroke-width="0.18" text-anchor="end">API5</text>
<text transform="translate(258.3,387.6) rotate(-90)" font-size="6.3" fill="#3a3a3a" stroke="#3a3a3a" stroke-width="0.18" text-anchor="end">ACCS</text>
<text transform="translate(265.1,387.6) rotate(-90)" font-size="6.3" fill="#3a3a3a" stroke="#3a3a3a" stroke-width="0.18" text-anchor="end">ACCSL</text>
<text transform="translate(271.9,387.6) rotate(-90)" font-size="6.3" fill="#3a3a3a" stroke="#3a3a3a" stroke-width="0.18" text-anchor="end">ALX4</text>
<text transform="translate(278.7,387.6) rotate(-90)" font-size="6.3" fill="#3a3a3a" stroke="#3a3a3a" stroke-width="0.18" text-anchor="end">TSPAN18</text>
<text transform="translate(285.5,387.6) rotate(-90)" font-size="6.3" fill="#3a3a3a" stroke="#3a3a3a" stroke-width="0.18" text-anchor="end">PPFIA3</text>
<text transform="translate(292.3,387.6) rotate(-90)" font-size="6.3" fill="#ef625a" stroke="#ef625a" stroke-width="0.18" text-anchor="end">HRC</text>
<text transform="translate(299.1,387.6) rotate(-90)" font-size="6.3" fill="#3a3a3a" stroke="#3a3a3a" stroke-width="0.18" text-anchor="end">BRD7</text>
<text transform="translate(305.9,387.6) rotate(-90)" font-size="6.3" fill="#ef625a" stroke="#ef625a" stroke-width="0.18" text-anchor="end">NKD1</text>
<text transform="translate(312.7,387.6) rotate(-90)" font-size="6.3" fill="#3a3a3a" stroke="#3a3a3a" stroke-width="0.18" text-anchor="end">NOD2</text>
<text transform="translate(319.5,387.6) rotate(-90)" font-size="6.3" fill="#3a3a3a" stroke="#3a3a3a" stroke-width="0.18" text-anchor="end">DKK1</text>
<text transform="translate(326.3,387.6) rotate(-90)" font-size="6.3" fill="#3a3a3a" stroke="#3a3a3a" stroke-width="0.18" text-anchor="end">PRKG1-AS1</text>
<text transform="translate(333.1,387.6) rotate(-90)" font-size="6.3" fill="#ef625a" stroke="#ef625a" stroke-width="0.18" text-anchor="end">CCDC85A</text>
<text transform="translate(339.9,387.6) rotate(-90)" font-size="6.3" fill="#ef625a" stroke="#ef625a" stroke-width="0.18" text-anchor="end">DNAJC6</text>
<text transform="translate(346.7,387.6) rotate(-90)" font-size="6.3" fill="#3a3a3a" stroke="#3a3a3a" stroke-width="0.18" text-anchor="end">AK4</text>
<text transform="translate(353.5,387.6) rotate(-90)" font-size="6.3" fill="#3a3a3a" stroke="#3a3a3a" stroke-width="0.18" text-anchor="end">HMGA2</text>
<text transform="translate(360.3,387.6) rotate(-90)" font-size="6.3" fill="#3a3a3a" stroke="#3a3a3a" stroke-width="0.18" text-anchor="end">RPSAP52</text>
<text transform="translate(367.1,387.6) rotate(-90)" font-size="6.3" fill="#3a3a3a" stroke="#3a3a3a" stroke-width="0.18" text-anchor="end">HMGA2-AS1</text>
<text transform="translate(373.9,387.6) rotate(-90)" font-size="6.3" fill="#3a3a3a" stroke="#3a3a3a" stroke-width="0.18" text-anchor="end">HELB</text>
<text transform="translate(380.7,387.6) rotate(-90)" font-size="6.3" fill="#ef625a" stroke="#ef625a" stroke-width="0.18" text-anchor="end">GRIP1</text>
<text transform="translate(387.5,387.6) rotate(-90)" font-size="6.3" fill="#3a3a3a" stroke="#3a3a3a" stroke-width="0.18" text-anchor="end">LINC02408</text>
<text transform="translate(394.3,387.6) rotate(-90)" font-size="6.3" fill="#3a3a3a" stroke="#3a3a3a" stroke-width="0.18" text-anchor="end">DYRK2</text>
<text transform="translate(401.1,387.6) rotate(-90)" font-size="6.3" fill="#ef625a" stroke="#ef625a" stroke-width="0.18" text-anchor="end">ARSG</text>
<text transform="translate(407.9,387.6) rotate(-90)" font-size="6.3" fill="#3a3a3a" stroke="#3a3a3a" stroke-width="0.18" text-anchor="end">SLC16A6</text>
<text transform="translate(414.7,387.6) rotate(-90)" font-size="6.3" fill="#ef625a" stroke="#ef625a" stroke-width="0.18" text-anchor="end">SEMA3E</text>
<text transform="translate(421.5,387.6) rotate(-90)" font-size="6.3" fill="#3a3a3a" stroke="#3a3a3a" stroke-width="0.18" text-anchor="end">SEMA3D</text>
<text transform="translate(428.3,387.6) rotate(-90)" font-size="6.3" fill="#ef625a" stroke="#ef625a" stroke-width="0.18" text-anchor="end">SLC24A4</text>
<text transform="translate(435.1,387.6) rotate(-90)" font-size="6.3" fill="#3a3a3a" stroke="#3a3a3a" stroke-width="0.18" text-anchor="end">CHGA</text>
<text transform="translate(441.9,387.6) rotate(-90)" font-size="6.3" fill="#ef625a" stroke="#ef625a" stroke-width="0.18" text-anchor="end">ABCC4</text>
<text transform="translate(448.7,387.6) rotate(-90)" font-size="6.3" fill="#ef625a" stroke="#ef625a" stroke-width="0.18" text-anchor="end">RP11-712B9.2</text>
<text transform="translate(455.5,387.6) rotate(-90)" font-size="6.3" fill="#ef625a" stroke="#ef625a" stroke-width="0.18" text-anchor="end">AMPD2</text>
<text transform="translate(462.3,387.6) rotate(-90)" font-size="6.3" fill="#3a3a3a" stroke="#3a3a3a" stroke-width="0.18" text-anchor="end">GSTM1</text>
<text transform="translate(469.1,387.6) rotate(-90)" font-size="6.3" fill="#3a3a3a" stroke="#3a3a3a" stroke-width="0.18" text-anchor="end">GSTM4</text>
<text transform="translate(475.9,387.6) rotate(-90)" font-size="6.3" fill="#3a3a3a" stroke="#3a3a3a" stroke-width="0.18" text-anchor="end">GSTM2</text>
<text transform="translate(482.7,387.6) rotate(-90)" font-size="6.3" fill="#3a3a3a" stroke="#3a3a3a" stroke-width="0.18" text-anchor="end">GNAI3</text>
<text transform="translate(489.5,387.6) rotate(-90)" font-size="6.3" fill="#ef625a" stroke="#ef625a" stroke-width="0.18" text-anchor="end">RP11-744N12.3</text>
<text transform="translate(496.3,387.6) rotate(-90)" font-size="6.3" fill="#3a3a3a" stroke="#3a3a3a" stroke-width="0.18" text-anchor="end">MAP3K7</text>
<text transform="translate(331.7,443.5) scale(0.64,1)" font-size="8.9" fill="#222" stroke="#222" stroke-width="0.18" text-anchor="middle" font-weight="bold">Gene symbol</text>
<rect x="0" y="0" width="520" height="1" fill="#333"/><rect x="0" y="0" width="1.3" height="453" fill="#333"/><rect x="519" y="0" width="1" height="453" fill="#333"/><rect x="0" y="451.7" width="520" height="1.3" fill="#2a2a2a"/>
</svg></body></html>
